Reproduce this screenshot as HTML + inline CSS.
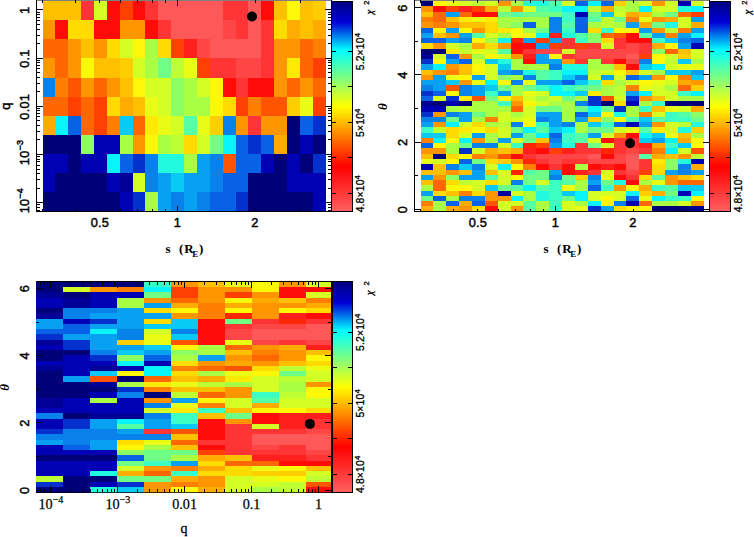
<!DOCTYPE html>
<html><head><meta charset="utf-8"><title>chi2 maps</title>
<style>
html,body{margin:0;padding:0;background:#fff;}
body{width:754px;height:537px;overflow:hidden;}
svg{display:block;}
text{font-family:"Liberation Sans",sans-serif;fill:#000;}
.tl{font-size:12.8px;letter-spacing:0.2px;stroke:#000;stroke-width:0.45px;}
.cbl{font-size:10.4px;letter-spacing:0.15px;stroke:#000;stroke-width:0.3px;}
.sup{font-size:9px;}
.csup{font-size:7.6px;stroke:#000;stroke-width:0.3px;}
.chi{font-family:"Liberation Serif",serif;font-style:italic;font-size:10px;stroke:#000;stroke-width:0.4px;}
.xl{font-family:"Liberation Serif",serif;font-size:13px;font-weight:bold;}
.sub{font-size:9px;}
.th{font-family:"Liberation Serif",serif;font-size:13px;font-style:italic;font-weight:bold;}
.sl{font-family:"Liberation Serif",serif;font-size:14.2px;stroke:#000;stroke-width:0.25px;}
.ssup{font-size:10px;}
.ql{font-family:"Liberation Serif",serif;font-size:14px;stroke:#000;stroke-width:0.3px;}
</style></head><body>
<svg width="754" height="537" viewBox="0 0 754 537">
<defs><linearGradient id="cb" x1="0" y1="0" x2="0" y2="1">
<stop offset="0" stop-color="#000080"/><stop offset="0.10" stop-color="#0000d8"/><stop offset="0.233" stop-color="#00ffff"/>
<stop offset="0.5" stop-color="#ffff00"/><stop offset="0.785" stop-color="#ff0000"/><stop offset="1" stop-color="#ff6060"/>
</linearGradient></defs>
<rect width="754" height="537" fill="#fff"/>
<svg x="43.10" y="0" width="300" height="212" viewBox="43.10 0 300 212"><g shape-rendering="crispEdges"><rect x="42.50" y="1.00" width="38.91" height="19.43" fill="#ffc000"/>
<rect x="81.11" y="1.00" width="13.17" height="19.43" fill="#ff3434"/>
<rect x="93.98" y="1.00" width="13.17" height="19.43" fill="#d4ff24"/>
<rect x="106.85" y="1.00" width="13.17" height="19.43" fill="#ff0c08"/>
<rect x="119.72" y="1.00" width="13.17" height="19.43" fill="#ff4000"/>
<rect x="132.59" y="1.00" width="13.17" height="19.43" fill="#ff0c08"/>
<rect x="145.46" y="1.00" width="13.17" height="19.43" fill="#ff3434"/>
<rect x="158.33" y="1.00" width="64.65" height="19.43" fill="#ff5858"/>
<rect x="222.68" y="1.00" width="26.04" height="19.43" fill="#ff3434"/>
<rect x="248.42" y="1.00" width="13.17" height="19.43" fill="#ff5858"/>
<rect x="261.29" y="1.00" width="13.17" height="19.43" fill="#ff0c08"/>
<rect x="274.16" y="1.00" width="13.17" height="19.43" fill="#ffc000"/>
<rect x="287.03" y="1.00" width="13.17" height="19.43" fill="#fcf808"/>
<rect x="299.90" y="1.00" width="13.17" height="19.43" fill="#ffc000"/>
<rect x="312.77" y="1.00" width="13.17" height="19.43" fill="#ffce00"/>
<rect x="42.50" y="20.13" width="13.17" height="19.43" fill="#ff9600"/>
<rect x="55.37" y="20.13" width="13.17" height="19.43" fill="#ff0c08"/>
<rect x="68.24" y="20.13" width="26.04" height="19.43" fill="#ffdc00"/>
<rect x="93.98" y="20.13" width="26.04" height="19.43" fill="#ff0c08"/>
<rect x="119.72" y="20.13" width="26.04" height="19.43" fill="#ff9600"/>
<rect x="145.46" y="20.13" width="13.17" height="19.43" fill="#ff0c08"/>
<rect x="158.33" y="20.13" width="13.17" height="19.43" fill="#ff3434"/>
<rect x="171.20" y="20.13" width="51.78" height="19.43" fill="#ff5858"/>
<rect x="222.68" y="20.13" width="13.17" height="19.43" fill="#ff4646"/>
<rect x="235.55" y="20.13" width="13.17" height="19.43" fill="#ff3434"/>
<rect x="248.42" y="20.13" width="13.17" height="19.43" fill="#ff5858"/>
<rect x="261.29" y="20.13" width="13.17" height="19.43" fill="#ff3434"/>
<rect x="274.16" y="20.13" width="13.17" height="19.43" fill="#ffdc00"/>
<rect x="287.03" y="20.13" width="13.17" height="19.43" fill="#ffab00"/>
<rect x="299.90" y="20.13" width="13.17" height="19.43" fill="#ffc000"/>
<rect x="312.77" y="20.13" width="13.17" height="19.43" fill="#ffab00"/>
<rect x="42.50" y="39.26" width="26.04" height="19.43" fill="#ff6800"/>
<rect x="68.24" y="39.26" width="13.17" height="19.43" fill="#ff9600"/>
<rect x="81.11" y="39.26" width="13.17" height="19.43" fill="#ffc000"/>
<rect x="93.98" y="39.26" width="13.17" height="19.43" fill="#ff9600"/>
<rect x="106.85" y="39.26" width="13.17" height="19.43" fill="#ffdc00"/>
<rect x="119.72" y="39.26" width="13.17" height="19.43" fill="#d4ff24"/>
<rect x="132.59" y="39.26" width="13.17" height="19.43" fill="#fcf808"/>
<rect x="145.46" y="39.26" width="13.17" height="19.43" fill="#a8ff44"/>
<rect x="158.33" y="39.26" width="13.17" height="19.43" fill="#ffdc00"/>
<rect x="171.20" y="39.26" width="13.17" height="19.43" fill="#ff4000"/>
<rect x="184.07" y="39.26" width="13.17" height="19.43" fill="#ff201e"/>
<rect x="196.94" y="39.26" width="13.17" height="19.43" fill="#ff4646"/>
<rect x="209.81" y="39.26" width="51.78" height="19.43" fill="#ff5858"/>
<rect x="261.29" y="39.26" width="13.17" height="19.43" fill="#ff3434"/>
<rect x="274.16" y="39.26" width="26.04" height="19.43" fill="#ff9600"/>
<rect x="299.90" y="39.26" width="13.17" height="19.43" fill="#ff6800"/>
<rect x="312.77" y="39.26" width="13.17" height="19.43" fill="#ff7f00"/>
<rect x="42.50" y="58.39" width="13.17" height="19.43" fill="#ff9600"/>
<rect x="55.37" y="58.39" width="13.17" height="19.43" fill="#ff6800"/>
<rect x="68.24" y="58.39" width="13.17" height="19.43" fill="#ff9600"/>
<rect x="81.11" y="58.39" width="13.17" height="19.43" fill="#fcf808"/>
<rect x="93.98" y="58.39" width="26.04" height="19.43" fill="#ffc000"/>
<rect x="119.72" y="58.39" width="13.17" height="19.43" fill="#ffce00"/>
<rect x="132.59" y="58.39" width="13.17" height="19.43" fill="#d4ff24"/>
<rect x="145.46" y="58.39" width="13.17" height="19.43" fill="#a8ff44"/>
<rect x="158.33" y="58.39" width="13.17" height="19.43" fill="#70ff86"/>
<rect x="171.20" y="58.39" width="13.17" height="19.43" fill="#beff34"/>
<rect x="184.07" y="58.39" width="13.17" height="19.43" fill="#e8fc16"/>
<rect x="196.94" y="58.39" width="13.17" height="19.43" fill="#ff4000"/>
<rect x="209.81" y="58.39" width="26.04" height="19.43" fill="#ff3434"/>
<rect x="235.55" y="58.39" width="26.04" height="19.43" fill="#ff4646"/>
<rect x="261.29" y="58.39" width="13.17" height="19.43" fill="#ff3434"/>
<rect x="274.16" y="58.39" width="13.17" height="19.43" fill="#ff9600"/>
<rect x="287.03" y="58.39" width="13.17" height="19.43" fill="#feea04"/>
<rect x="299.90" y="58.39" width="13.17" height="19.43" fill="#ff6800"/>
<rect x="312.77" y="58.39" width="13.17" height="19.43" fill="#ff4000"/>
<rect x="42.50" y="77.52" width="13.17" height="19.43" fill="#0881eb"/>
<rect x="55.37" y="77.52" width="13.17" height="19.43" fill="#ff7f00"/>
<rect x="68.24" y="77.52" width="13.17" height="19.43" fill="#ff5400"/>
<rect x="81.11" y="77.52" width="13.17" height="19.43" fill="#ff9600"/>
<rect x="93.98" y="77.52" width="13.17" height="19.43" fill="#ff6800"/>
<rect x="106.85" y="77.52" width="13.17" height="19.43" fill="#ff9600"/>
<rect x="119.72" y="77.52" width="13.17" height="19.43" fill="#ffc000"/>
<rect x="132.59" y="77.52" width="13.17" height="19.43" fill="#fcf808"/>
<rect x="145.46" y="77.52" width="26.04" height="19.43" fill="#d4ff24"/>
<rect x="171.20" y="77.52" width="13.17" height="19.43" fill="#8cff65"/>
<rect x="184.07" y="77.52" width="13.17" height="19.43" fill="#a8ff44"/>
<rect x="196.94" y="77.52" width="13.17" height="19.43" fill="#d4ff24"/>
<rect x="209.81" y="77.52" width="13.17" height="19.43" fill="#fcf808"/>
<rect x="222.68" y="77.52" width="13.17" height="19.43" fill="#ff0c08"/>
<rect x="235.55" y="77.52" width="13.17" height="19.43" fill="#ff3434"/>
<rect x="248.42" y="77.52" width="26.04" height="19.43" fill="#ff0c08"/>
<rect x="274.16" y="77.52" width="13.17" height="19.43" fill="#ff9600"/>
<rect x="287.03" y="77.52" width="13.17" height="19.43" fill="#ff6800"/>
<rect x="299.90" y="77.52" width="13.17" height="19.43" fill="#ff9600"/>
<rect x="312.77" y="77.52" width="13.17" height="19.43" fill="#ff6800"/>
<rect x="42.50" y="96.65" width="26.04" height="19.43" fill="#ff6800"/>
<rect x="68.24" y="96.65" width="13.17" height="19.43" fill="#ff4000"/>
<rect x="81.11" y="96.65" width="13.17" height="19.43" fill="#ff6800"/>
<rect x="93.98" y="96.65" width="13.17" height="19.43" fill="#ff4000"/>
<rect x="106.85" y="96.65" width="13.17" height="19.43" fill="#ffdc00"/>
<rect x="119.72" y="96.65" width="13.17" height="19.43" fill="#ffab00"/>
<rect x="132.59" y="96.65" width="13.17" height="19.43" fill="#ffc000"/>
<rect x="145.46" y="96.65" width="13.17" height="19.43" fill="#e8fc16"/>
<rect x="158.33" y="96.65" width="13.17" height="19.43" fill="#d4ff24"/>
<rect x="171.20" y="96.65" width="13.17" height="19.43" fill="#8cff65"/>
<rect x="184.07" y="96.65" width="26.04" height="19.43" fill="#a8ff44"/>
<rect x="209.81" y="96.65" width="13.17" height="19.43" fill="#fcf808"/>
<rect x="222.68" y="96.65" width="13.17" height="19.43" fill="#ffdc00"/>
<rect x="235.55" y="96.65" width="13.17" height="19.43" fill="#ff4000"/>
<rect x="248.42" y="96.65" width="13.17" height="19.43" fill="#ff7f00"/>
<rect x="261.29" y="96.65" width="26.04" height="19.43" fill="#ff5400"/>
<rect x="287.03" y="96.65" width="13.17" height="19.43" fill="#ffce00"/>
<rect x="299.90" y="96.65" width="13.17" height="19.43" fill="#e8fc16"/>
<rect x="312.77" y="96.65" width="13.17" height="19.43" fill="#ff4000"/>
<rect x="42.50" y="115.78" width="13.17" height="19.43" fill="#ffab00"/>
<rect x="55.37" y="115.78" width="13.17" height="19.43" fill="#08f4fa"/>
<rect x="68.24" y="115.78" width="13.17" height="19.43" fill="#0862e6"/>
<rect x="81.11" y="115.78" width="13.17" height="19.43" fill="#ff6800"/>
<rect x="93.98" y="115.78" width="13.17" height="19.43" fill="#ff4000"/>
<rect x="106.85" y="115.78" width="13.17" height="19.43" fill="#ff7f00"/>
<rect x="119.72" y="115.78" width="13.17" height="19.43" fill="#08caf5"/>
<rect x="132.59" y="115.78" width="13.17" height="19.43" fill="#ff6800"/>
<rect x="145.46" y="115.78" width="13.17" height="19.43" fill="#feea04"/>
<rect x="158.33" y="115.78" width="13.17" height="19.43" fill="#e8fc16"/>
<rect x="171.20" y="115.78" width="13.17" height="19.43" fill="#d4ff24"/>
<rect x="184.07" y="115.78" width="13.17" height="19.43" fill="#56ffa5"/>
<rect x="196.94" y="115.78" width="13.17" height="19.43" fill="#e8fc16"/>
<rect x="209.81" y="115.78" width="13.17" height="19.43" fill="#ffce00"/>
<rect x="222.68" y="115.78" width="13.17" height="19.43" fill="#0881eb"/>
<rect x="235.55" y="115.78" width="13.17" height="19.43" fill="#ff9600"/>
<rect x="248.42" y="115.78" width="13.17" height="19.43" fill="#ff3434"/>
<rect x="261.29" y="115.78" width="26.04" height="19.43" fill="#ff9600"/>
<rect x="287.03" y="115.78" width="13.17" height="19.43" fill="#000078"/>
<rect x="299.90" y="115.78" width="13.17" height="19.43" fill="#0862e6"/>
<rect x="312.77" y="115.78" width="13.17" height="19.43" fill="#0431cd"/>
<rect x="42.50" y="134.91" width="38.91" height="19.43" fill="#000078"/>
<rect x="81.11" y="134.91" width="13.17" height="19.43" fill="#8cff65"/>
<rect x="93.98" y="134.91" width="26.04" height="19.43" fill="#0000b4"/>
<rect x="119.72" y="134.91" width="13.17" height="19.43" fill="#a8ff44"/>
<rect x="132.59" y="134.91" width="13.17" height="19.43" fill="#ff9600"/>
<rect x="145.46" y="134.91" width="13.17" height="19.43" fill="#fcf808"/>
<rect x="158.33" y="134.91" width="13.17" height="19.43" fill="#a8ff44"/>
<rect x="171.20" y="134.91" width="13.17" height="19.43" fill="#beff34"/>
<rect x="184.07" y="134.91" width="13.17" height="19.43" fill="#ffdc00"/>
<rect x="196.94" y="134.91" width="13.17" height="19.43" fill="#d4ff24"/>
<rect x="209.81" y="134.91" width="13.17" height="19.43" fill="#70ff86"/>
<rect x="222.68" y="134.91" width="13.17" height="19.43" fill="#08f4fa"/>
<rect x="235.55" y="134.91" width="13.17" height="19.43" fill="#0862e6"/>
<rect x="248.42" y="134.91" width="13.17" height="19.43" fill="#0431cd"/>
<rect x="261.29" y="134.91" width="13.17" height="19.43" fill="#0862e6"/>
<rect x="274.16" y="134.91" width="13.17" height="19.43" fill="#ffab00"/>
<rect x="287.03" y="134.91" width="13.17" height="19.43" fill="#000078"/>
<rect x="299.90" y="134.91" width="13.17" height="19.43" fill="#0000b4"/>
<rect x="312.77" y="134.91" width="13.17" height="19.43" fill="#000078"/>
<rect x="42.50" y="154.04" width="26.04" height="19.43" fill="#0000b4"/>
<rect x="68.24" y="154.04" width="13.17" height="19.43" fill="#000078"/>
<rect x="81.11" y="154.04" width="26.04" height="19.43" fill="#0000b4"/>
<rect x="106.85" y="154.04" width="13.17" height="19.43" fill="#08f4fa"/>
<rect x="119.72" y="154.04" width="13.17" height="19.43" fill="#0862e6"/>
<rect x="132.59" y="154.04" width="13.17" height="19.43" fill="#0431cd"/>
<rect x="145.46" y="154.04" width="13.17" height="19.43" fill="#0881eb"/>
<rect x="158.33" y="154.04" width="26.04" height="19.43" fill="#22fadf"/>
<rect x="184.07" y="154.04" width="13.17" height="19.43" fill="#a8ff44"/>
<rect x="196.94" y="154.04" width="13.17" height="19.43" fill="#08a0f0"/>
<rect x="209.81" y="154.04" width="13.17" height="19.43" fill="#0881eb"/>
<rect x="222.68" y="154.04" width="13.17" height="19.43" fill="#ff5400"/>
<rect x="235.55" y="154.04" width="26.04" height="19.43" fill="#0862e6"/>
<rect x="261.29" y="154.04" width="13.17" height="19.43" fill="#0000b4"/>
<rect x="274.16" y="154.04" width="13.17" height="19.43" fill="#000078"/>
<rect x="287.03" y="154.04" width="13.17" height="19.43" fill="#0000b4"/>
<rect x="299.90" y="154.04" width="13.17" height="19.43" fill="#000078"/>
<rect x="312.77" y="154.04" width="13.17" height="19.43" fill="#0431cd"/>
<rect x="42.50" y="173.17" width="13.17" height="19.43" fill="#0000b4"/>
<rect x="55.37" y="173.17" width="51.78" height="19.43" fill="#000078"/>
<rect x="106.85" y="173.17" width="13.17" height="19.43" fill="#0000b4"/>
<rect x="119.72" y="173.17" width="13.17" height="19.43" fill="#000096"/>
<rect x="132.59" y="173.17" width="13.17" height="19.43" fill="#d4ff24"/>
<rect x="145.46" y="173.17" width="13.17" height="19.43" fill="#0881eb"/>
<rect x="158.33" y="173.17" width="13.17" height="19.43" fill="#08a0f0"/>
<rect x="171.20" y="173.17" width="13.17" height="19.43" fill="#08caf5"/>
<rect x="184.07" y="173.17" width="26.04" height="19.43" fill="#08a0f0"/>
<rect x="209.81" y="173.17" width="13.17" height="19.43" fill="#0881eb"/>
<rect x="222.68" y="173.17" width="26.04" height="19.43" fill="#0862e6"/>
<rect x="248.42" y="173.17" width="38.91" height="19.43" fill="#000078"/>
<rect x="287.03" y="173.17" width="38.91" height="19.43" fill="#0000b4"/>
<rect x="42.50" y="192.30" width="77.52" height="19.43" fill="#000078"/>
<rect x="119.72" y="192.30" width="13.17" height="19.43" fill="#0000b4"/>
<rect x="132.59" y="192.30" width="13.17" height="19.43" fill="#0431cd"/>
<rect x="145.46" y="192.30" width="13.17" height="19.43" fill="#a8ff44"/>
<rect x="158.33" y="192.30" width="13.17" height="19.43" fill="#08a0f0"/>
<rect x="171.20" y="192.30" width="13.17" height="19.43" fill="#0881eb"/>
<rect x="184.07" y="192.30" width="13.17" height="19.43" fill="#08a0f0"/>
<rect x="196.94" y="192.30" width="13.17" height="19.43" fill="#0881eb"/>
<rect x="209.81" y="192.30" width="26.04" height="19.43" fill="#0862e6"/>
<rect x="235.55" y="192.30" width="13.17" height="19.43" fill="#0431cd"/>
<rect x="248.42" y="192.30" width="64.65" height="19.43" fill="#000078"/>
<rect x="312.77" y="192.30" width="13.17" height="19.43" fill="#0000b4"/></g></svg>
<g stroke="#000" stroke-width="1" fill="none" shape-rendering="crispEdges">
<line x1="36.00" y1="0.50" x2="331.50" y2="0.50" stroke-opacity="0.5"/>
<line x1="36.50" y1="0.40" x2="36.50" y2="212.00"/>
<line x1="331.00" y1="0.40" x2="331.00" y2="212.00"/>
<line x1="36.00" y1="211.50" x2="331.50" y2="211.50"/>
<line x1="42.86" y1="211.50" x2="42.86" y2="208.50"/>
<line x1="42.86" y1="0.40" x2="42.86" y2="3.40"/>
<line x1="75.03" y1="211.50" x2="75.03" y2="208.50"/>
<line x1="75.03" y1="0.40" x2="75.03" y2="3.40"/>
<line x1="99.98" y1="211.50" x2="99.98" y2="208.50"/>
<line x1="99.98" y1="0.40" x2="99.98" y2="3.40"/>
<line x1="120.37" y1="211.50" x2="120.37" y2="208.50"/>
<line x1="120.37" y1="0.40" x2="120.37" y2="3.40"/>
<line x1="137.61" y1="211.50" x2="137.61" y2="208.50"/>
<line x1="137.61" y1="0.40" x2="137.61" y2="3.40"/>
<line x1="152.55" y1="211.50" x2="152.55" y2="208.50"/>
<line x1="152.55" y1="0.40" x2="152.55" y2="3.40"/>
<line x1="165.72" y1="211.50" x2="165.72" y2="208.50"/>
<line x1="165.72" y1="0.40" x2="165.72" y2="3.40"/>
<line x1="177.50" y1="211.50" x2="177.50" y2="205.50"/>
<line x1="177.50" y1="0.40" x2="177.50" y2="6.40"/>
<line x1="255.02" y1="211.50" x2="255.02" y2="208.50"/>
<line x1="255.02" y1="0.40" x2="255.02" y2="3.40"/>
<line x1="300.36" y1="211.50" x2="300.36" y2="208.50"/>
<line x1="300.36" y1="0.40" x2="300.36" y2="3.40"/>
<line x1="36.50" y1="210.17" x2="39.50" y2="210.17"/>
<line x1="331.00" y1="210.17" x2="328.00" y2="210.17"/>
<line x1="36.50" y1="207.37" x2="39.50" y2="207.37"/>
<line x1="331.00" y1="207.37" x2="328.00" y2="207.37"/>
<line x1="36.50" y1="204.91" x2="39.50" y2="204.91"/>
<line x1="331.00" y1="204.91" x2="328.00" y2="204.91"/>
<line x1="36.50" y1="202.70" x2="42.80" y2="202.70"/>
<line x1="331.00" y1="202.70" x2="324.70" y2="202.70"/>
<line x1="36.50" y1="188.19" x2="39.50" y2="188.19"/>
<line x1="331.00" y1="188.19" x2="328.00" y2="188.19"/>
<line x1="36.50" y1="179.70" x2="39.50" y2="179.70"/>
<line x1="331.00" y1="179.70" x2="328.00" y2="179.70"/>
<line x1="36.50" y1="173.68" x2="39.50" y2="173.68"/>
<line x1="331.00" y1="173.68" x2="328.00" y2="173.68"/>
<line x1="36.50" y1="169.01" x2="39.50" y2="169.01"/>
<line x1="331.00" y1="169.01" x2="328.00" y2="169.01"/>
<line x1="36.50" y1="165.19" x2="39.50" y2="165.19"/>
<line x1="331.00" y1="165.19" x2="328.00" y2="165.19"/>
<line x1="36.50" y1="161.97" x2="39.50" y2="161.97"/>
<line x1="331.00" y1="161.97" x2="328.00" y2="161.97"/>
<line x1="36.50" y1="159.17" x2="39.50" y2="159.17"/>
<line x1="331.00" y1="159.17" x2="328.00" y2="159.17"/>
<line x1="36.50" y1="156.71" x2="39.50" y2="156.71"/>
<line x1="331.00" y1="156.71" x2="328.00" y2="156.71"/>
<line x1="36.50" y1="154.50" x2="42.80" y2="154.50"/>
<line x1="331.00" y1="154.50" x2="324.70" y2="154.50"/>
<line x1="36.50" y1="139.99" x2="39.50" y2="139.99"/>
<line x1="331.00" y1="139.99" x2="328.00" y2="139.99"/>
<line x1="36.50" y1="131.50" x2="39.50" y2="131.50"/>
<line x1="331.00" y1="131.50" x2="328.00" y2="131.50"/>
<line x1="36.50" y1="125.48" x2="39.50" y2="125.48"/>
<line x1="331.00" y1="125.48" x2="328.00" y2="125.48"/>
<line x1="36.50" y1="120.81" x2="39.50" y2="120.81"/>
<line x1="331.00" y1="120.81" x2="328.00" y2="120.81"/>
<line x1="36.50" y1="116.99" x2="39.50" y2="116.99"/>
<line x1="331.00" y1="116.99" x2="328.00" y2="116.99"/>
<line x1="36.50" y1="113.77" x2="39.50" y2="113.77"/>
<line x1="331.00" y1="113.77" x2="328.00" y2="113.77"/>
<line x1="36.50" y1="110.97" x2="39.50" y2="110.97"/>
<line x1="331.00" y1="110.97" x2="328.00" y2="110.97"/>
<line x1="36.50" y1="108.51" x2="39.50" y2="108.51"/>
<line x1="331.00" y1="108.51" x2="328.00" y2="108.51"/>
<line x1="36.50" y1="106.30" x2="42.80" y2="106.30"/>
<line x1="331.00" y1="106.30" x2="324.70" y2="106.30"/>
<line x1="36.50" y1="91.79" x2="39.50" y2="91.79"/>
<line x1="331.00" y1="91.79" x2="328.00" y2="91.79"/>
<line x1="36.50" y1="83.30" x2="39.50" y2="83.30"/>
<line x1="331.00" y1="83.30" x2="328.00" y2="83.30"/>
<line x1="36.50" y1="77.28" x2="39.50" y2="77.28"/>
<line x1="331.00" y1="77.28" x2="328.00" y2="77.28"/>
<line x1="36.50" y1="72.61" x2="39.50" y2="72.61"/>
<line x1="331.00" y1="72.61" x2="328.00" y2="72.61"/>
<line x1="36.50" y1="68.79" x2="39.50" y2="68.79"/>
<line x1="331.00" y1="68.79" x2="328.00" y2="68.79"/>
<line x1="36.50" y1="65.57" x2="39.50" y2="65.57"/>
<line x1="331.00" y1="65.57" x2="328.00" y2="65.57"/>
<line x1="36.50" y1="62.77" x2="39.50" y2="62.77"/>
<line x1="331.00" y1="62.77" x2="328.00" y2="62.77"/>
<line x1="36.50" y1="60.31" x2="39.50" y2="60.31"/>
<line x1="331.00" y1="60.31" x2="328.00" y2="60.31"/>
<line x1="36.50" y1="58.10" x2="42.80" y2="58.10"/>
<line x1="331.00" y1="58.10" x2="324.70" y2="58.10"/>
<line x1="36.50" y1="43.59" x2="39.50" y2="43.59"/>
<line x1="331.00" y1="43.59" x2="328.00" y2="43.59"/>
<line x1="36.50" y1="35.10" x2="39.50" y2="35.10"/>
<line x1="331.00" y1="35.10" x2="328.00" y2="35.10"/>
<line x1="36.50" y1="29.08" x2="39.50" y2="29.08"/>
<line x1="331.00" y1="29.08" x2="328.00" y2="29.08"/>
<line x1="36.50" y1="24.41" x2="39.50" y2="24.41"/>
<line x1="331.00" y1="24.41" x2="328.00" y2="24.41"/>
<line x1="36.50" y1="20.59" x2="39.50" y2="20.59"/>
<line x1="331.00" y1="20.59" x2="328.00" y2="20.59"/>
<line x1="36.50" y1="17.37" x2="39.50" y2="17.37"/>
<line x1="331.00" y1="17.37" x2="328.00" y2="17.37"/>
<line x1="36.50" y1="14.57" x2="39.50" y2="14.57"/>
<line x1="331.00" y1="14.57" x2="328.00" y2="14.57"/>
<line x1="36.50" y1="12.11" x2="39.50" y2="12.11"/>
<line x1="331.00" y1="12.11" x2="328.00" y2="12.11"/>
<line x1="36.50" y1="9.90" x2="42.80" y2="9.90"/>
<line x1="331.00" y1="9.90" x2="324.70" y2="9.90"/>
</g>
<text class="tl" x="99.98" y="227.4" text-anchor="middle">0.5</text>
<text class="tl" x="177.50" y="227.4" text-anchor="middle">1</text>
<text class="tl" x="255.02" y="227.4" text-anchor="middle">2</text>
<text class="xl" y="252.5"><tspan x="165.60">s</tspan><tspan x="179.00">(</tspan><tspan x="184.20">R</tspan><tspan class="sub" x="192.30" dy="4">E</tspan><tspan x="199.00" dy="-4">)</tspan></text>
<rect x="331.50" y="1.20" width="20.50" height="210.20" fill="url(#cb)"/>
<g stroke="#000" stroke-width="1" fill="none" shape-rendering="crispEdges">
<rect x="331.50" y="1.20" width="20.50" height="210.20"/>
<line x1="331.50" y1="51.30" x2="336.00" y2="51.30"/>
<line x1="352.00" y1="51.30" x2="347.50" y2="51.30"/>
<line x1="331.50" y1="86.90" x2="336.00" y2="86.90"/>
<line x1="352.00" y1="86.90" x2="347.50" y2="86.90"/>
<line x1="331.50" y1="122.40" x2="336.00" y2="122.40"/>
<line x1="352.00" y1="122.40" x2="347.50" y2="122.40"/>
<line x1="331.50" y1="157.90" x2="336.00" y2="157.90"/>
<line x1="352.00" y1="157.90" x2="347.50" y2="157.90"/>
<line x1="331.50" y1="193.40" x2="336.00" y2="193.40"/>
<line x1="352.00" y1="193.40" x2="347.50" y2="193.40"/>
</g>
<text class="cbl" transform="translate(363.90,51.60) rotate(-90)" text-anchor="middle">5.2×10<tspan class="csup" dy="-3.6">4</tspan></text>
<text class="cbl" transform="translate(363.90,122.70) rotate(-90)" text-anchor="middle">5×10<tspan class="csup" dy="-3.6">4</tspan></text>
<text class="cbl" transform="translate(363.90,193.70) rotate(-90)" text-anchor="middle">4.8×10<tspan class="csup" dy="-3.6">4</tspan></text>
<text class="chi" transform="translate(373.00,14.20) rotate(-90)">χ</text>
<text class="csup" transform="translate(368.50,4.80) rotate(-90)">2</text>
<text class="tl" transform="translate(28.6,10.40) rotate(-90)" text-anchor="middle">1</text>
<text class="tl" transform="translate(28.6,58.60) rotate(-90)" text-anchor="middle">0.1</text>
<text class="tl" transform="translate(28.6,106.80) rotate(-90)" text-anchor="middle">0.01</text>
<text class="tl" transform="translate(28.6,152.50) rotate(-90)" text-anchor="middle">10<tspan class="sup" dy="-5.8">−3</tspan></text>
<text class="tl" transform="translate(28.6,200.70) rotate(-90)" text-anchor="middle">10<tspan class="sup" dy="-5.8">−4</tspan></text>
<text class="tl" transform="translate(9.6,106) rotate(-90)" text-anchor="middle">q</text>
<circle cx="252" cy="16.5" r="5" fill="#000"/>
<svg x="421.10" y="0" width="300" height="212" viewBox="421.10 0 300 212"><g shape-rendering="crispEdges"><rect x="420.50" y="1.20" width="13.17" height="5.56" fill="#000078"/>
<rect x="433.37" y="1.20" width="13.17" height="5.56" fill="#fcf808"/>
<rect x="446.24" y="1.20" width="13.17" height="5.56" fill="#e8fc16"/>
<rect x="459.11" y="1.20" width="13.17" height="5.56" fill="#d4ff24"/>
<rect x="471.98" y="1.20" width="13.17" height="5.56" fill="#beff34"/>
<rect x="484.85" y="1.20" width="13.17" height="5.56" fill="#d4ff24"/>
<rect x="497.72" y="1.20" width="13.17" height="5.56" fill="#ff9600"/>
<rect x="510.59" y="1.20" width="13.17" height="5.56" fill="#a8ff44"/>
<rect x="523.46" y="1.20" width="26.04" height="5.56" fill="#22fadf"/>
<rect x="549.20" y="1.20" width="13.17" height="5.56" fill="#56ffa5"/>
<rect x="562.07" y="1.20" width="13.17" height="5.56" fill="#d4ff24"/>
<rect x="574.94" y="1.20" width="13.17" height="5.56" fill="#0862e6"/>
<rect x="587.81" y="1.20" width="13.17" height="5.56" fill="#08f4fa"/>
<rect x="600.68" y="1.20" width="13.17" height="5.56" fill="#0862e6"/>
<rect x="613.55" y="1.20" width="13.17" height="5.56" fill="#ffce00"/>
<rect x="626.42" y="1.20" width="13.17" height="5.56" fill="#a8ff44"/>
<rect x="639.29" y="1.20" width="13.17" height="5.56" fill="#d4ff24"/>
<rect x="652.16" y="1.20" width="13.17" height="5.56" fill="#ff9600"/>
<rect x="665.03" y="1.20" width="13.17" height="5.56" fill="#d4ff24"/>
<rect x="677.90" y="1.20" width="13.17" height="5.56" fill="#0000b4"/>
<rect x="690.77" y="1.20" width="13.17" height="5.56" fill="#d4ff24"/>
<rect x="420.50" y="6.46" width="13.17" height="5.56" fill="#ff9600"/>
<rect x="433.37" y="6.46" width="13.17" height="5.56" fill="#ff0c08"/>
<rect x="446.24" y="6.46" width="13.17" height="5.56" fill="#ff4000"/>
<rect x="459.11" y="6.46" width="13.17" height="5.56" fill="#ff201e"/>
<rect x="471.98" y="6.46" width="13.17" height="5.56" fill="#ff4000"/>
<rect x="484.85" y="6.46" width="13.17" height="5.56" fill="#ffab00"/>
<rect x="497.72" y="6.46" width="13.17" height="5.56" fill="#beff34"/>
<rect x="510.59" y="6.46" width="13.17" height="5.56" fill="#ff9600"/>
<rect x="523.46" y="6.46" width="13.17" height="5.56" fill="#d4ff24"/>
<rect x="536.33" y="6.46" width="13.17" height="5.56" fill="#56ffa5"/>
<rect x="549.20" y="6.46" width="13.17" height="5.56" fill="#3cffc4"/>
<rect x="562.07" y="6.46" width="26.04" height="5.56" fill="#08f4fa"/>
<rect x="587.81" y="6.46" width="13.17" height="5.56" fill="#beff34"/>
<rect x="600.68" y="6.46" width="13.17" height="5.56" fill="#ffab00"/>
<rect x="613.55" y="6.46" width="13.17" height="5.56" fill="#beff34"/>
<rect x="626.42" y="6.46" width="13.17" height="5.56" fill="#a8ff44"/>
<rect x="639.29" y="6.46" width="13.17" height="5.56" fill="#08f4fa"/>
<rect x="652.16" y="6.46" width="26.04" height="5.56" fill="#d4ff24"/>
<rect x="677.90" y="6.46" width="13.17" height="5.56" fill="#22fadf"/>
<rect x="690.77" y="6.46" width="13.17" height="5.56" fill="#08f4fa"/>
<rect x="420.50" y="11.72" width="13.17" height="5.56" fill="#ffc000"/>
<rect x="433.37" y="11.72" width="13.17" height="5.56" fill="#ff6800"/>
<rect x="446.24" y="11.72" width="13.17" height="5.56" fill="#08a0f0"/>
<rect x="459.11" y="11.72" width="13.17" height="5.56" fill="#ff6800"/>
<rect x="471.98" y="11.72" width="26.04" height="5.56" fill="#ff0c08"/>
<rect x="497.72" y="11.72" width="13.17" height="5.56" fill="#70ff86"/>
<rect x="510.59" y="11.72" width="13.17" height="5.56" fill="#56ffa5"/>
<rect x="523.46" y="11.72" width="38.91" height="5.56" fill="#70ff86"/>
<rect x="562.07" y="11.72" width="13.17" height="5.56" fill="#3cffc4"/>
<rect x="574.94" y="11.72" width="13.17" height="5.56" fill="#0000b4"/>
<rect x="587.81" y="11.72" width="13.17" height="5.56" fill="#70ff86"/>
<rect x="600.68" y="11.72" width="13.17" height="5.56" fill="#08caf5"/>
<rect x="613.55" y="11.72" width="13.17" height="5.56" fill="#d4ff24"/>
<rect x="626.42" y="11.72" width="13.17" height="5.56" fill="#ffab00"/>
<rect x="639.29" y="11.72" width="13.17" height="5.56" fill="#ffc000"/>
<rect x="652.16" y="11.72" width="13.17" height="5.56" fill="#a8ff44"/>
<rect x="665.03" y="11.72" width="13.17" height="5.56" fill="#70ff86"/>
<rect x="677.90" y="11.72" width="13.17" height="5.56" fill="#ff6800"/>
<rect x="690.77" y="11.72" width="13.17" height="5.56" fill="#ff4000"/>
<rect x="420.50" y="16.98" width="13.17" height="5.56" fill="#ff7f00"/>
<rect x="433.37" y="16.98" width="13.17" height="5.56" fill="#ff6800"/>
<rect x="446.24" y="16.98" width="13.17" height="5.56" fill="#ffc000"/>
<rect x="459.11" y="16.98" width="13.17" height="5.56" fill="#feea04"/>
<rect x="471.98" y="16.98" width="13.17" height="5.56" fill="#e8fc16"/>
<rect x="484.85" y="16.98" width="13.17" height="5.56" fill="#feea04"/>
<rect x="497.72" y="16.98" width="51.78" height="5.56" fill="#a8ff44"/>
<rect x="549.20" y="16.98" width="13.17" height="5.56" fill="#0881eb"/>
<rect x="562.07" y="16.98" width="13.17" height="5.56" fill="#3cffc4"/>
<rect x="574.94" y="16.98" width="13.17" height="5.56" fill="#0862e6"/>
<rect x="587.81" y="16.98" width="13.17" height="5.56" fill="#56ffa5"/>
<rect x="600.68" y="16.98" width="13.17" height="5.56" fill="#beff34"/>
<rect x="613.55" y="16.98" width="13.17" height="5.56" fill="#70ff86"/>
<rect x="626.42" y="16.98" width="13.17" height="5.56" fill="#ff7f00"/>
<rect x="639.29" y="16.98" width="13.17" height="5.56" fill="#e8fc16"/>
<rect x="652.16" y="16.98" width="13.17" height="5.56" fill="#ff9600"/>
<rect x="665.03" y="16.98" width="13.17" height="5.56" fill="#ffab00"/>
<rect x="677.90" y="16.98" width="13.17" height="5.56" fill="#d4ff24"/>
<rect x="690.77" y="16.98" width="13.17" height="5.56" fill="#08a0f0"/>
<rect x="420.50" y="22.24" width="13.17" height="5.56" fill="#ff9600"/>
<rect x="433.37" y="22.24" width="13.17" height="5.56" fill="#ff7f00"/>
<rect x="446.24" y="22.24" width="13.17" height="5.56" fill="#ff9600"/>
<rect x="459.11" y="22.24" width="26.04" height="5.56" fill="#ffc000"/>
<rect x="484.85" y="22.24" width="13.17" height="5.56" fill="#ffdc00"/>
<rect x="497.72" y="22.24" width="13.17" height="5.56" fill="#a8ff44"/>
<rect x="510.59" y="22.24" width="13.17" height="5.56" fill="#8cff65"/>
<rect x="523.46" y="22.24" width="13.17" height="5.56" fill="#0862e6"/>
<rect x="536.33" y="22.24" width="13.17" height="5.56" fill="#a8ff44"/>
<rect x="549.20" y="22.24" width="13.17" height="5.56" fill="#0881eb"/>
<rect x="562.07" y="22.24" width="13.17" height="5.56" fill="#56ffa5"/>
<rect x="574.94" y="22.24" width="13.17" height="5.56" fill="#0862e6"/>
<rect x="587.81" y="22.24" width="13.17" height="5.56" fill="#a8ff44"/>
<rect x="600.68" y="22.24" width="13.17" height="5.56" fill="#beff34"/>
<rect x="613.55" y="22.24" width="13.17" height="5.56" fill="#a8ff44"/>
<rect x="626.42" y="22.24" width="13.17" height="5.56" fill="#08a0f0"/>
<rect x="639.29" y="22.24" width="13.17" height="5.56" fill="#ffab00"/>
<rect x="652.16" y="22.24" width="13.17" height="5.56" fill="#70ff86"/>
<rect x="665.03" y="22.24" width="13.17" height="5.56" fill="#22fadf"/>
<rect x="677.90" y="22.24" width="13.17" height="5.56" fill="#d4ff24"/>
<rect x="690.77" y="22.24" width="13.17" height="5.56" fill="#ffab00"/>
<rect x="420.50" y="27.50" width="13.17" height="5.56" fill="#0862e6"/>
<rect x="433.37" y="27.50" width="13.17" height="5.56" fill="#fcf808"/>
<rect x="446.24" y="27.50" width="13.17" height="5.56" fill="#08a0f0"/>
<rect x="459.11" y="27.50" width="13.17" height="5.56" fill="#fcf808"/>
<rect x="471.98" y="27.50" width="13.17" height="5.56" fill="#ff9600"/>
<rect x="484.85" y="27.50" width="13.17" height="5.56" fill="#ffdc00"/>
<rect x="497.72" y="27.50" width="13.17" height="5.56" fill="#feea04"/>
<rect x="510.59" y="27.50" width="13.17" height="5.56" fill="#fcf808"/>
<rect x="523.46" y="27.50" width="13.17" height="5.56" fill="#a8ff44"/>
<rect x="536.33" y="27.50" width="13.17" height="5.56" fill="#70ff86"/>
<rect x="549.20" y="27.50" width="13.17" height="5.56" fill="#0881eb"/>
<rect x="562.07" y="27.50" width="13.17" height="5.56" fill="#3cffc4"/>
<rect x="574.94" y="27.50" width="13.17" height="5.56" fill="#0862e6"/>
<rect x="587.81" y="27.50" width="13.17" height="5.56" fill="#ffdc00"/>
<rect x="600.68" y="27.50" width="13.17" height="5.56" fill="#3cffc4"/>
<rect x="613.55" y="27.50" width="26.04" height="5.56" fill="#fcf808"/>
<rect x="639.29" y="27.50" width="13.17" height="5.56" fill="#08a0f0"/>
<rect x="652.16" y="27.50" width="13.17" height="5.56" fill="#ff9600"/>
<rect x="665.03" y="27.50" width="13.17" height="5.56" fill="#beff34"/>
<rect x="677.90" y="27.50" width="13.17" height="5.56" fill="#ff7f00"/>
<rect x="690.77" y="27.50" width="13.17" height="5.56" fill="#08a0f0"/>
<rect x="420.50" y="32.76" width="13.17" height="5.56" fill="#08a0f0"/>
<rect x="433.37" y="32.76" width="13.17" height="5.56" fill="#ffc000"/>
<rect x="446.24" y="32.76" width="13.17" height="5.56" fill="#ff9600"/>
<rect x="459.11" y="32.76" width="13.17" height="5.56" fill="#08a0f0"/>
<rect x="471.98" y="32.76" width="13.17" height="5.56" fill="#56ffa5"/>
<rect x="484.85" y="32.76" width="13.17" height="5.56" fill="#d4ff24"/>
<rect x="497.72" y="32.76" width="13.17" height="5.56" fill="#a8ff44"/>
<rect x="510.59" y="32.76" width="13.17" height="5.56" fill="#fcf808"/>
<rect x="523.46" y="32.76" width="13.17" height="5.56" fill="#e8fc16"/>
<rect x="536.33" y="32.76" width="13.17" height="5.56" fill="#08f4fa"/>
<rect x="549.20" y="32.76" width="13.17" height="5.56" fill="#ff201e"/>
<rect x="562.07" y="32.76" width="13.17" height="5.56" fill="#22fadf"/>
<rect x="574.94" y="32.76" width="13.17" height="5.56" fill="#56ffa5"/>
<rect x="587.81" y="32.76" width="13.17" height="5.56" fill="#8cff65"/>
<rect x="600.68" y="32.76" width="13.17" height="5.56" fill="#ff6800"/>
<rect x="613.55" y="32.76" width="13.17" height="5.56" fill="#ff5400"/>
<rect x="626.42" y="32.76" width="13.17" height="5.56" fill="#ff0c08"/>
<rect x="639.29" y="32.76" width="13.17" height="5.56" fill="#56ffa5"/>
<rect x="652.16" y="32.76" width="13.17" height="5.56" fill="#08a0f0"/>
<rect x="665.03" y="32.76" width="13.17" height="5.56" fill="#ff7f00"/>
<rect x="677.90" y="32.76" width="13.17" height="5.56" fill="#08a0f0"/>
<rect x="690.77" y="32.76" width="13.17" height="5.56" fill="#08f4fa"/>
<rect x="420.50" y="38.02" width="26.04" height="5.56" fill="#0862e6"/>
<rect x="446.24" y="38.02" width="13.17" height="5.56" fill="#08a0f0"/>
<rect x="459.11" y="38.02" width="13.17" height="5.56" fill="#0881eb"/>
<rect x="471.98" y="38.02" width="13.17" height="5.56" fill="#fcf808"/>
<rect x="484.85" y="38.02" width="13.17" height="5.56" fill="#a8ff44"/>
<rect x="497.72" y="38.02" width="13.17" height="5.56" fill="#08f4fa"/>
<rect x="510.59" y="38.02" width="13.17" height="5.56" fill="#ff2604"/>
<rect x="523.46" y="38.02" width="13.17" height="5.56" fill="#08a0f0"/>
<rect x="536.33" y="38.02" width="13.17" height="5.56" fill="#ff4000"/>
<rect x="549.20" y="38.02" width="13.17" height="5.56" fill="#08a0f0"/>
<rect x="562.07" y="38.02" width="13.17" height="5.56" fill="#ff3434"/>
<rect x="574.94" y="38.02" width="13.17" height="5.56" fill="#3cffc4"/>
<rect x="587.81" y="38.02" width="13.17" height="5.56" fill="#8cff65"/>
<rect x="600.68" y="38.02" width="13.17" height="5.56" fill="#ffdc00"/>
<rect x="613.55" y="38.02" width="13.17" height="5.56" fill="#ff3434"/>
<rect x="626.42" y="38.02" width="26.04" height="5.56" fill="#ff0c08"/>
<rect x="652.16" y="38.02" width="13.17" height="5.56" fill="#3cffc4"/>
<rect x="665.03" y="38.02" width="13.17" height="5.56" fill="#08caf5"/>
<rect x="677.90" y="38.02" width="13.17" height="5.56" fill="#0881eb"/>
<rect x="690.77" y="38.02" width="13.17" height="5.56" fill="#0862e6"/>
<rect x="420.50" y="43.28" width="13.17" height="5.56" fill="#ffdc00"/>
<rect x="433.37" y="43.28" width="13.17" height="5.56" fill="#ff9600"/>
<rect x="446.24" y="43.28" width="13.17" height="5.56" fill="#d4ff24"/>
<rect x="459.11" y="43.28" width="13.17" height="5.56" fill="#a8ff44"/>
<rect x="471.98" y="43.28" width="13.17" height="5.56" fill="#ffab00"/>
<rect x="484.85" y="43.28" width="13.17" height="5.56" fill="#ffdc00"/>
<rect x="497.72" y="43.28" width="13.17" height="5.56" fill="#ff9600"/>
<rect x="510.59" y="43.28" width="26.04" height="5.56" fill="#ff0c08"/>
<rect x="536.33" y="43.28" width="13.17" height="5.56" fill="#08a0f0"/>
<rect x="549.20" y="43.28" width="13.17" height="5.56" fill="#ff4000"/>
<rect x="562.07" y="43.28" width="13.17" height="5.56" fill="#ff3434"/>
<rect x="574.94" y="43.28" width="13.17" height="5.56" fill="#ff4000"/>
<rect x="587.81" y="43.28" width="13.17" height="5.56" fill="#ff3434"/>
<rect x="600.68" y="43.28" width="13.17" height="5.56" fill="#d4ff24"/>
<rect x="613.55" y="43.28" width="13.17" height="5.56" fill="#ff3434"/>
<rect x="626.42" y="43.28" width="13.17" height="5.56" fill="#ff4646"/>
<rect x="639.29" y="43.28" width="13.17" height="5.56" fill="#ff3434"/>
<rect x="652.16" y="43.28" width="13.17" height="5.56" fill="#ffab00"/>
<rect x="665.03" y="43.28" width="13.17" height="5.56" fill="#fcf808"/>
<rect x="677.90" y="43.28" width="13.17" height="5.56" fill="#08a0f0"/>
<rect x="690.77" y="43.28" width="13.17" height="5.56" fill="#0000b4"/>
<rect x="420.50" y="48.54" width="26.04" height="5.56" fill="#000078"/>
<rect x="446.24" y="48.54" width="13.17" height="5.56" fill="#feea04"/>
<rect x="459.11" y="48.54" width="13.17" height="5.56" fill="#beff34"/>
<rect x="471.98" y="48.54" width="13.17" height="5.56" fill="#e8fc16"/>
<rect x="484.85" y="48.54" width="13.17" height="5.56" fill="#d4ff24"/>
<rect x="497.72" y="48.54" width="13.17" height="5.56" fill="#56ffa5"/>
<rect x="510.59" y="48.54" width="13.17" height="5.56" fill="#ff0c08"/>
<rect x="523.46" y="48.54" width="13.17" height="5.56" fill="#ff3434"/>
<rect x="536.33" y="48.54" width="26.04" height="5.56" fill="#ff4646"/>
<rect x="562.07" y="48.54" width="13.17" height="5.56" fill="#d4ff24"/>
<rect x="574.94" y="48.54" width="64.65" height="5.56" fill="#ff4646"/>
<rect x="639.29" y="48.54" width="13.17" height="5.56" fill="#ff3434"/>
<rect x="652.16" y="48.54" width="13.17" height="5.56" fill="#8cff65"/>
<rect x="665.03" y="48.54" width="13.17" height="5.56" fill="#ff6800"/>
<rect x="677.90" y="48.54" width="13.17" height="5.56" fill="#ffc000"/>
<rect x="690.77" y="48.54" width="13.17" height="5.56" fill="#d4ff24"/>
<rect x="420.50" y="53.80" width="13.17" height="5.56" fill="#000096"/>
<rect x="433.37" y="53.80" width="13.17" height="5.56" fill="#d4ff24"/>
<rect x="446.24" y="53.80" width="13.17" height="5.56" fill="#0862e6"/>
<rect x="459.11" y="53.80" width="13.17" height="5.56" fill="#ff9600"/>
<rect x="471.98" y="53.80" width="13.17" height="5.56" fill="#a8ff44"/>
<rect x="484.85" y="53.80" width="13.17" height="5.56" fill="#fcf808"/>
<rect x="497.72" y="53.80" width="13.17" height="5.56" fill="#d4ff24"/>
<rect x="510.59" y="53.80" width="13.17" height="5.56" fill="#ff9600"/>
<rect x="523.46" y="53.80" width="13.17" height="5.56" fill="#ff201e"/>
<rect x="536.33" y="53.80" width="13.17" height="5.56" fill="#08a0f0"/>
<rect x="549.20" y="53.80" width="13.17" height="5.56" fill="#fcf808"/>
<rect x="562.07" y="53.80" width="13.17" height="5.56" fill="#ff3434"/>
<rect x="574.94" y="53.80" width="51.78" height="5.56" fill="#ff4646"/>
<rect x="626.42" y="53.80" width="13.17" height="5.56" fill="#ff5858"/>
<rect x="639.29" y="53.80" width="13.17" height="5.56" fill="#ff4000"/>
<rect x="652.16" y="53.80" width="13.17" height="5.56" fill="#fcf808"/>
<rect x="665.03" y="53.80" width="13.17" height="5.56" fill="#d4ff24"/>
<rect x="677.90" y="53.80" width="13.17" height="5.56" fill="#ffce00"/>
<rect x="690.77" y="53.80" width="13.17" height="5.56" fill="#d4ff24"/>
<rect x="420.50" y="59.06" width="13.17" height="5.56" fill="#0431cd"/>
<rect x="433.37" y="59.06" width="13.17" height="5.56" fill="#fcf808"/>
<rect x="446.24" y="59.06" width="13.17" height="5.56" fill="#08a0f0"/>
<rect x="459.11" y="59.06" width="13.17" height="5.56" fill="#0862e6"/>
<rect x="471.98" y="59.06" width="13.17" height="5.56" fill="#d4ff24"/>
<rect x="484.85" y="59.06" width="13.17" height="5.56" fill="#08caf5"/>
<rect x="497.72" y="59.06" width="13.17" height="5.56" fill="#22fadf"/>
<rect x="510.59" y="59.06" width="13.17" height="5.56" fill="#a8ff44"/>
<rect x="523.46" y="59.06" width="13.17" height="5.56" fill="#ff0c08"/>
<rect x="536.33" y="59.06" width="26.04" height="5.56" fill="#08a0f0"/>
<rect x="562.07" y="59.06" width="13.17" height="5.56" fill="#ff9600"/>
<rect x="574.94" y="59.06" width="13.17" height="5.56" fill="#ff3434"/>
<rect x="587.81" y="59.06" width="13.17" height="5.56" fill="#a8ff44"/>
<rect x="600.68" y="59.06" width="13.17" height="5.56" fill="#ff3434"/>
<rect x="613.55" y="59.06" width="13.17" height="5.56" fill="#ff0c08"/>
<rect x="626.42" y="59.06" width="13.17" height="5.56" fill="#ff4646"/>
<rect x="639.29" y="59.06" width="13.17" height="5.56" fill="#0881eb"/>
<rect x="652.16" y="59.06" width="13.17" height="5.56" fill="#fcf808"/>
<rect x="665.03" y="59.06" width="13.17" height="5.56" fill="#beff34"/>
<rect x="677.90" y="59.06" width="13.17" height="5.56" fill="#08caf5"/>
<rect x="690.77" y="59.06" width="13.17" height="5.56" fill="#a8ff44"/>
<rect x="420.50" y="64.32" width="13.17" height="5.56" fill="#08a0f0"/>
<rect x="433.37" y="64.32" width="13.17" height="5.56" fill="#08f4fa"/>
<rect x="446.24" y="64.32" width="13.17" height="5.56" fill="#ff9600"/>
<rect x="459.11" y="64.32" width="13.17" height="5.56" fill="#ffc000"/>
<rect x="471.98" y="64.32" width="13.17" height="5.56" fill="#fcf808"/>
<rect x="484.85" y="64.32" width="13.17" height="5.56" fill="#d4ff24"/>
<rect x="497.72" y="64.32" width="13.17" height="5.56" fill="#08caf5"/>
<rect x="510.59" y="64.32" width="38.91" height="5.56" fill="#a8ff44"/>
<rect x="549.20" y="64.32" width="13.17" height="5.56" fill="#0881eb"/>
<rect x="562.07" y="64.32" width="26.04" height="5.56" fill="#22fadf"/>
<rect x="587.81" y="64.32" width="26.04" height="5.56" fill="#a8ff44"/>
<rect x="613.55" y="64.32" width="13.17" height="5.56" fill="#ffc000"/>
<rect x="626.42" y="64.32" width="13.17" height="5.56" fill="#ff0c08"/>
<rect x="639.29" y="64.32" width="13.17" height="5.56" fill="#08caf5"/>
<rect x="652.16" y="64.32" width="13.17" height="5.56" fill="#08f4fa"/>
<rect x="665.03" y="64.32" width="13.17" height="5.56" fill="#d4ff24"/>
<rect x="677.90" y="64.32" width="26.04" height="5.56" fill="#e8fc16"/>
<rect x="420.50" y="69.58" width="13.17" height="5.56" fill="#ffc000"/>
<rect x="433.37" y="69.58" width="13.17" height="5.56" fill="#ff9600"/>
<rect x="446.24" y="69.58" width="13.17" height="5.56" fill="#ff7f00"/>
<rect x="459.11" y="69.58" width="13.17" height="5.56" fill="#ffc000"/>
<rect x="471.98" y="69.58" width="13.17" height="5.56" fill="#fcf808"/>
<rect x="484.85" y="69.58" width="13.17" height="5.56" fill="#d4ff24"/>
<rect x="497.72" y="69.58" width="13.17" height="5.56" fill="#08a0f0"/>
<rect x="510.59" y="69.58" width="13.17" height="5.56" fill="#0881eb"/>
<rect x="523.46" y="69.58" width="13.17" height="5.56" fill="#22fadf"/>
<rect x="536.33" y="69.58" width="13.17" height="5.56" fill="#56ffa5"/>
<rect x="549.20" y="69.58" width="13.17" height="5.56" fill="#3cffc4"/>
<rect x="562.07" y="69.58" width="26.04" height="5.56" fill="#08f4fa"/>
<rect x="587.81" y="69.58" width="13.17" height="5.56" fill="#beff34"/>
<rect x="600.68" y="69.58" width="13.17" height="5.56" fill="#d4ff24"/>
<rect x="613.55" y="69.58" width="13.17" height="5.56" fill="#fcf808"/>
<rect x="626.42" y="69.58" width="13.17" height="5.56" fill="#ffc000"/>
<rect x="639.29" y="69.58" width="13.17" height="5.56" fill="#d4ff24"/>
<rect x="652.16" y="69.58" width="13.17" height="5.56" fill="#a8ff44"/>
<rect x="665.03" y="69.58" width="26.04" height="5.56" fill="#08caf5"/>
<rect x="690.77" y="69.58" width="13.17" height="5.56" fill="#08a0f0"/>
<rect x="420.50" y="74.84" width="13.17" height="5.56" fill="#ff9600"/>
<rect x="433.37" y="74.84" width="13.17" height="5.56" fill="#08a0f0"/>
<rect x="446.24" y="74.84" width="13.17" height="5.56" fill="#e8fc16"/>
<rect x="459.11" y="74.84" width="13.17" height="5.56" fill="#fcf808"/>
<rect x="471.98" y="74.84" width="13.17" height="5.56" fill="#08a0f0"/>
<rect x="484.85" y="74.84" width="13.17" height="5.56" fill="#d4ff24"/>
<rect x="497.72" y="74.84" width="13.17" height="5.56" fill="#8cff65"/>
<rect x="510.59" y="74.84" width="13.17" height="5.56" fill="#a8ff44"/>
<rect x="523.46" y="74.84" width="13.17" height="5.56" fill="#0881eb"/>
<rect x="536.33" y="74.84" width="13.17" height="5.56" fill="#56ffa5"/>
<rect x="549.20" y="74.84" width="13.17" height="5.56" fill="#3cffc4"/>
<rect x="562.07" y="74.84" width="13.17" height="5.56" fill="#08caf5"/>
<rect x="574.94" y="74.84" width="13.17" height="5.56" fill="#0881eb"/>
<rect x="587.81" y="74.84" width="13.17" height="5.56" fill="#d4ff24"/>
<rect x="600.68" y="74.84" width="13.17" height="5.56" fill="#08a0f0"/>
<rect x="613.55" y="74.84" width="13.17" height="5.56" fill="#d4ff24"/>
<rect x="626.42" y="74.84" width="13.17" height="5.56" fill="#0862e6"/>
<rect x="639.29" y="74.84" width="13.17" height="5.56" fill="#08a0f0"/>
<rect x="652.16" y="74.84" width="13.17" height="5.56" fill="#ff9600"/>
<rect x="665.03" y="74.84" width="13.17" height="5.56" fill="#fcf808"/>
<rect x="677.90" y="74.84" width="13.17" height="5.56" fill="#ff7f00"/>
<rect x="690.77" y="74.84" width="13.17" height="5.56" fill="#08caf5"/>
<rect x="420.50" y="80.10" width="26.04" height="5.56" fill="#08a0f0"/>
<rect x="446.24" y="80.10" width="13.17" height="5.56" fill="#08caf5"/>
<rect x="459.11" y="80.10" width="13.17" height="5.56" fill="#ff9600"/>
<rect x="471.98" y="80.10" width="13.17" height="5.56" fill="#e8fc16"/>
<rect x="484.85" y="80.10" width="13.17" height="5.56" fill="#08f4fa"/>
<rect x="497.72" y="80.10" width="13.17" height="5.56" fill="#fcf808"/>
<rect x="510.59" y="80.10" width="13.17" height="5.56" fill="#0881eb"/>
<rect x="523.46" y="80.10" width="13.17" height="5.56" fill="#e8fc16"/>
<rect x="536.33" y="80.10" width="26.04" height="5.56" fill="#08a0f0"/>
<rect x="562.07" y="80.10" width="13.17" height="5.56" fill="#0862e6"/>
<rect x="574.94" y="80.10" width="13.17" height="5.56" fill="#08caf5"/>
<rect x="587.81" y="80.10" width="13.17" height="5.56" fill="#3cffc4"/>
<rect x="600.68" y="80.10" width="13.17" height="5.56" fill="#ffdc00"/>
<rect x="613.55" y="80.10" width="13.17" height="5.56" fill="#a8ff44"/>
<rect x="626.42" y="80.10" width="13.17" height="5.56" fill="#d4ff24"/>
<rect x="639.29" y="80.10" width="13.17" height="5.56" fill="#fcf808"/>
<rect x="652.16" y="80.10" width="13.17" height="5.56" fill="#e8fc16"/>
<rect x="665.03" y="80.10" width="13.17" height="5.56" fill="#d4ff24"/>
<rect x="677.90" y="80.10" width="13.17" height="5.56" fill="#ffab00"/>
<rect x="690.77" y="80.10" width="13.17" height="5.56" fill="#ff9600"/>
<rect x="420.50" y="85.36" width="13.17" height="5.56" fill="#0881eb"/>
<rect x="433.37" y="85.36" width="13.17" height="5.56" fill="#08a0f0"/>
<rect x="446.24" y="85.36" width="13.17" height="5.56" fill="#ff5400"/>
<rect x="459.11" y="85.36" width="13.17" height="5.56" fill="#0881eb"/>
<rect x="471.98" y="85.36" width="13.17" height="5.56" fill="#08a0f0"/>
<rect x="484.85" y="85.36" width="13.17" height="5.56" fill="#08caf5"/>
<rect x="497.72" y="85.36" width="13.17" height="5.56" fill="#70ff86"/>
<rect x="510.59" y="85.36" width="13.17" height="5.56" fill="#a8ff44"/>
<rect x="523.46" y="85.36" width="13.17" height="5.56" fill="#70ff86"/>
<rect x="536.33" y="85.36" width="13.17" height="5.56" fill="#3cffc4"/>
<rect x="549.20" y="85.36" width="13.17" height="5.56" fill="#08f4fa"/>
<rect x="562.07" y="85.36" width="13.17" height="5.56" fill="#3cffc4"/>
<rect x="574.94" y="85.36" width="13.17" height="5.56" fill="#56ffa5"/>
<rect x="587.81" y="85.36" width="13.17" height="5.56" fill="#70ff86"/>
<rect x="600.68" y="85.36" width="13.17" height="5.56" fill="#a8ff44"/>
<rect x="613.55" y="85.36" width="13.17" height="5.56" fill="#beff34"/>
<rect x="626.42" y="85.36" width="13.17" height="5.56" fill="#ff7f00"/>
<rect x="639.29" y="85.36" width="13.17" height="5.56" fill="#e8fc16"/>
<rect x="652.16" y="85.36" width="13.17" height="5.56" fill="#d4ff24"/>
<rect x="665.03" y="85.36" width="13.17" height="5.56" fill="#a8ff44"/>
<rect x="677.90" y="85.36" width="13.17" height="5.56" fill="#ff6800"/>
<rect x="690.77" y="85.36" width="13.17" height="5.56" fill="#ffce00"/>
<rect x="420.50" y="90.62" width="13.17" height="5.56" fill="#0431cd"/>
<rect x="433.37" y="90.62" width="13.17" height="5.56" fill="#0862e6"/>
<rect x="446.24" y="90.62" width="13.17" height="5.56" fill="#fcf808"/>
<rect x="459.11" y="90.62" width="13.17" height="5.56" fill="#0881eb"/>
<rect x="471.98" y="90.62" width="13.17" height="5.56" fill="#08a0f0"/>
<rect x="484.85" y="90.62" width="13.17" height="5.56" fill="#3cffc4"/>
<rect x="497.72" y="90.62" width="13.17" height="5.56" fill="#08a0f0"/>
<rect x="510.59" y="90.62" width="13.17" height="5.56" fill="#a8ff44"/>
<rect x="523.46" y="90.62" width="13.17" height="5.56" fill="#e8fc16"/>
<rect x="536.33" y="90.62" width="13.17" height="5.56" fill="#d4ff24"/>
<rect x="549.20" y="90.62" width="26.04" height="5.56" fill="#08f4fa"/>
<rect x="574.94" y="90.62" width="13.17" height="5.56" fill="#08caf5"/>
<rect x="587.81" y="90.62" width="13.17" height="5.56" fill="#feea04"/>
<rect x="600.68" y="90.62" width="13.17" height="5.56" fill="#a8ff44"/>
<rect x="613.55" y="90.62" width="13.17" height="5.56" fill="#beff34"/>
<rect x="626.42" y="90.62" width="13.17" height="5.56" fill="#08a0f0"/>
<rect x="639.29" y="90.62" width="13.17" height="5.56" fill="#08f4fa"/>
<rect x="652.16" y="90.62" width="26.04" height="5.56" fill="#d4ff24"/>
<rect x="677.90" y="90.62" width="13.17" height="5.56" fill="#3cffc4"/>
<rect x="690.77" y="90.62" width="13.17" height="5.56" fill="#08f4fa"/>
<rect x="420.50" y="95.88" width="13.17" height="5.56" fill="#0862e6"/>
<rect x="433.37" y="95.88" width="13.17" height="5.56" fill="#d4ff24"/>
<rect x="446.24" y="95.88" width="13.17" height="5.56" fill="#0431cd"/>
<rect x="459.11" y="95.88" width="13.17" height="5.56" fill="#feea04"/>
<rect x="471.98" y="95.88" width="13.17" height="5.56" fill="#ff5400"/>
<rect x="484.85" y="95.88" width="13.17" height="5.56" fill="#70ff86"/>
<rect x="497.72" y="95.88" width="13.17" height="5.56" fill="#fcf808"/>
<rect x="510.59" y="95.88" width="13.17" height="5.56" fill="#ffc000"/>
<rect x="523.46" y="95.88" width="13.17" height="5.56" fill="#d4ff24"/>
<rect x="536.33" y="95.88" width="13.17" height="5.56" fill="#a8ff44"/>
<rect x="549.20" y="95.88" width="13.17" height="5.56" fill="#d4ff24"/>
<rect x="562.07" y="95.88" width="13.17" height="5.56" fill="#70ff86"/>
<rect x="574.94" y="95.88" width="13.17" height="5.56" fill="#a8ff44"/>
<rect x="587.81" y="95.88" width="13.17" height="5.56" fill="#0431cd"/>
<rect x="600.68" y="95.88" width="13.17" height="5.56" fill="#ff5400"/>
<rect x="613.55" y="95.88" width="13.17" height="5.56" fill="#d4ff24"/>
<rect x="626.42" y="95.88" width="13.17" height="5.56" fill="#0431cd"/>
<rect x="639.29" y="95.88" width="13.17" height="5.56" fill="#ff9600"/>
<rect x="652.16" y="95.88" width="13.17" height="5.56" fill="#ffc000"/>
<rect x="665.03" y="95.88" width="13.17" height="5.56" fill="#d4ff24"/>
<rect x="677.90" y="95.88" width="26.04" height="5.56" fill="#a8ff44"/>
<rect x="420.50" y="101.14" width="13.17" height="5.56" fill="#000096"/>
<rect x="433.37" y="101.14" width="13.17" height="5.56" fill="#000078"/>
<rect x="446.24" y="101.14" width="13.17" height="5.56" fill="#0000b4"/>
<rect x="459.11" y="101.14" width="13.17" height="5.56" fill="#000078"/>
<rect x="471.98" y="101.14" width="26.04" height="5.56" fill="#a8ff44"/>
<rect x="497.72" y="101.14" width="13.17" height="5.56" fill="#3cffc4"/>
<rect x="510.59" y="101.14" width="13.17" height="5.56" fill="#ff9600"/>
<rect x="523.46" y="101.14" width="13.17" height="5.56" fill="#fcf808"/>
<rect x="536.33" y="101.14" width="13.17" height="5.56" fill="#d4ff24"/>
<rect x="549.20" y="101.14" width="26.04" height="5.56" fill="#a8ff44"/>
<rect x="574.94" y="101.14" width="13.17" height="5.56" fill="#0881eb"/>
<rect x="587.81" y="101.14" width="13.17" height="5.56" fill="#0431cd"/>
<rect x="600.68" y="101.14" width="13.17" height="5.56" fill="#000078"/>
<rect x="613.55" y="101.14" width="13.17" height="5.56" fill="#ffdc00"/>
<rect x="626.42" y="101.14" width="13.17" height="5.56" fill="#0000b4"/>
<rect x="639.29" y="101.14" width="13.17" height="5.56" fill="#a8ff44"/>
<rect x="652.16" y="101.14" width="13.17" height="5.56" fill="#3cffc4"/>
<rect x="665.03" y="101.14" width="38.91" height="5.56" fill="#000078"/>
<rect x="420.50" y="106.40" width="26.04" height="5.56" fill="#0000b4"/>
<rect x="446.24" y="106.40" width="13.17" height="5.56" fill="#a8ff44"/>
<rect x="459.11" y="106.40" width="13.17" height="5.56" fill="#beff34"/>
<rect x="471.98" y="106.40" width="38.91" height="5.56" fill="#a8ff44"/>
<rect x="510.59" y="106.40" width="13.17" height="5.56" fill="#ff6800"/>
<rect x="523.46" y="106.40" width="13.17" height="5.56" fill="#d4ff24"/>
<rect x="536.33" y="106.40" width="26.04" height="5.56" fill="#70ff86"/>
<rect x="562.07" y="106.40" width="13.17" height="5.56" fill="#a8ff44"/>
<rect x="574.94" y="106.40" width="13.17" height="5.56" fill="#70ff86"/>
<rect x="587.81" y="106.40" width="13.17" height="5.56" fill="#08f4fa"/>
<rect x="600.68" y="106.40" width="13.17" height="5.56" fill="#70ff86"/>
<rect x="613.55" y="106.40" width="13.17" height="5.56" fill="#0431cd"/>
<rect x="626.42" y="106.40" width="13.17" height="5.56" fill="#a8ff44"/>
<rect x="639.29" y="106.40" width="13.17" height="5.56" fill="#3cffc4"/>
<rect x="652.16" y="106.40" width="13.17" height="5.56" fill="#ffc000"/>
<rect x="665.03" y="106.40" width="13.17" height="5.56" fill="#e8fc16"/>
<rect x="677.90" y="106.40" width="13.17" height="5.56" fill="#d4ff24"/>
<rect x="690.77" y="106.40" width="13.17" height="5.56" fill="#ffab00"/>
<rect x="420.50" y="111.66" width="13.17" height="5.56" fill="#0431cd"/>
<rect x="433.37" y="111.66" width="13.17" height="5.56" fill="#ff9600"/>
<rect x="446.24" y="111.66" width="13.17" height="5.56" fill="#0881eb"/>
<rect x="459.11" y="111.66" width="13.17" height="5.56" fill="#08a0f0"/>
<rect x="471.98" y="111.66" width="13.17" height="5.56" fill="#70ff86"/>
<rect x="484.85" y="111.66" width="13.17" height="5.56" fill="#a8ff44"/>
<rect x="497.72" y="111.66" width="13.17" height="5.56" fill="#d4ff24"/>
<rect x="510.59" y="111.66" width="13.17" height="5.56" fill="#a8ff44"/>
<rect x="523.46" y="111.66" width="13.17" height="5.56" fill="#d4ff24"/>
<rect x="536.33" y="111.66" width="26.04" height="5.56" fill="#08a0f0"/>
<rect x="562.07" y="111.66" width="13.17" height="5.56" fill="#a8ff44"/>
<rect x="574.94" y="111.66" width="13.17" height="5.56" fill="#0862e6"/>
<rect x="587.81" y="111.66" width="13.17" height="5.56" fill="#08caf5"/>
<rect x="600.68" y="111.66" width="13.17" height="5.56" fill="#fcf808"/>
<rect x="613.55" y="111.66" width="13.17" height="5.56" fill="#22fadf"/>
<rect x="626.42" y="111.66" width="13.17" height="5.56" fill="#a8ff44"/>
<rect x="639.29" y="111.66" width="13.17" height="5.56" fill="#ff7f00"/>
<rect x="652.16" y="111.66" width="13.17" height="5.56" fill="#d4ff24"/>
<rect x="665.03" y="111.66" width="13.17" height="5.56" fill="#3cffc4"/>
<rect x="677.90" y="111.66" width="13.17" height="5.56" fill="#56ffa5"/>
<rect x="690.77" y="111.66" width="13.17" height="5.56" fill="#8cff65"/>
<rect x="420.50" y="116.92" width="26.04" height="5.56" fill="#0881eb"/>
<rect x="446.24" y="116.92" width="13.17" height="5.56" fill="#70ff86"/>
<rect x="459.11" y="116.92" width="13.17" height="5.56" fill="#08a0f0"/>
<rect x="471.98" y="116.92" width="13.17" height="5.56" fill="#a8ff44"/>
<rect x="484.85" y="116.92" width="13.17" height="5.56" fill="#ff7f00"/>
<rect x="497.72" y="116.92" width="26.04" height="5.56" fill="#d4ff24"/>
<rect x="523.46" y="116.92" width="13.17" height="5.56" fill="#e8fc16"/>
<rect x="536.33" y="116.92" width="13.17" height="5.56" fill="#0881eb"/>
<rect x="549.20" y="116.92" width="13.17" height="5.56" fill="#08a0f0"/>
<rect x="562.07" y="116.92" width="13.17" height="5.56" fill="#a8ff44"/>
<rect x="574.94" y="116.92" width="13.17" height="5.56" fill="#08a0f0"/>
<rect x="587.81" y="116.92" width="13.17" height="5.56" fill="#ffce00"/>
<rect x="600.68" y="116.92" width="13.17" height="5.56" fill="#8cff65"/>
<rect x="613.55" y="116.92" width="13.17" height="5.56" fill="#fcf808"/>
<rect x="626.42" y="116.92" width="13.17" height="5.56" fill="#56ffa5"/>
<rect x="639.29" y="116.92" width="13.17" height="5.56" fill="#08caf5"/>
<rect x="652.16" y="116.92" width="13.17" height="5.56" fill="#56ffa5"/>
<rect x="665.03" y="116.92" width="26.04" height="5.56" fill="#3cffc4"/>
<rect x="690.77" y="116.92" width="13.17" height="5.56" fill="#70ff86"/>
<rect x="420.50" y="122.18" width="13.17" height="5.56" fill="#08a0f0"/>
<rect x="433.37" y="122.18" width="13.17" height="5.56" fill="#ff9600"/>
<rect x="446.24" y="122.18" width="13.17" height="5.56" fill="#08f4fa"/>
<rect x="459.11" y="122.18" width="13.17" height="5.56" fill="#d4ff24"/>
<rect x="471.98" y="122.18" width="13.17" height="5.56" fill="#ffdc00"/>
<rect x="484.85" y="122.18" width="13.17" height="5.56" fill="#a8ff44"/>
<rect x="497.72" y="122.18" width="13.17" height="5.56" fill="#beff34"/>
<rect x="510.59" y="122.18" width="13.17" height="5.56" fill="#0881eb"/>
<rect x="523.46" y="122.18" width="13.17" height="5.56" fill="#fcf808"/>
<rect x="536.33" y="122.18" width="13.17" height="5.56" fill="#3cffc4"/>
<rect x="549.20" y="122.18" width="13.17" height="5.56" fill="#08a0f0"/>
<rect x="562.07" y="122.18" width="13.17" height="5.56" fill="#0881eb"/>
<rect x="574.94" y="122.18" width="13.17" height="5.56" fill="#a8ff44"/>
<rect x="587.81" y="122.18" width="13.17" height="5.56" fill="#08caf5"/>
<rect x="600.68" y="122.18" width="13.17" height="5.56" fill="#3cffc4"/>
<rect x="613.55" y="122.18" width="13.17" height="5.56" fill="#0862e6"/>
<rect x="626.42" y="122.18" width="13.17" height="5.56" fill="#0000b4"/>
<rect x="639.29" y="122.18" width="13.17" height="5.56" fill="#08a0f0"/>
<rect x="652.16" y="122.18" width="13.17" height="5.56" fill="#ff9600"/>
<rect x="665.03" y="122.18" width="13.17" height="5.56" fill="#d4ff24"/>
<rect x="677.90" y="122.18" width="13.17" height="5.56" fill="#beff34"/>
<rect x="690.77" y="122.18" width="13.17" height="5.56" fill="#22fadf"/>
<rect x="420.50" y="127.44" width="13.17" height="5.56" fill="#3cffc4"/>
<rect x="433.37" y="127.44" width="13.17" height="5.56" fill="#beff34"/>
<rect x="446.24" y="127.44" width="13.17" height="5.56" fill="#ffdc00"/>
<rect x="459.11" y="127.44" width="13.17" height="5.56" fill="#feea04"/>
<rect x="471.98" y="127.44" width="13.17" height="5.56" fill="#fcf808"/>
<rect x="484.85" y="127.44" width="13.17" height="5.56" fill="#ffdc00"/>
<rect x="497.72" y="127.44" width="13.17" height="5.56" fill="#d4ff24"/>
<rect x="510.59" y="127.44" width="13.17" height="5.56" fill="#70ff86"/>
<rect x="523.46" y="127.44" width="13.17" height="5.56" fill="#08f4fa"/>
<rect x="536.33" y="127.44" width="13.17" height="5.56" fill="#56ffa5"/>
<rect x="549.20" y="127.44" width="13.17" height="5.56" fill="#08caf5"/>
<rect x="562.07" y="127.44" width="13.17" height="5.56" fill="#08f4fa"/>
<rect x="574.94" y="127.44" width="13.17" height="5.56" fill="#a8ff44"/>
<rect x="587.81" y="127.44" width="26.04" height="5.56" fill="#70ff86"/>
<rect x="613.55" y="127.44" width="13.17" height="5.56" fill="#d4ff24"/>
<rect x="626.42" y="127.44" width="13.17" height="5.56" fill="#e8fc16"/>
<rect x="639.29" y="127.44" width="13.17" height="5.56" fill="#56ffa5"/>
<rect x="652.16" y="127.44" width="13.17" height="5.56" fill="#feea04"/>
<rect x="665.03" y="127.44" width="13.17" height="5.56" fill="#d4ff24"/>
<rect x="677.90" y="127.44" width="13.17" height="5.56" fill="#22fadf"/>
<rect x="690.77" y="127.44" width="13.17" height="5.56" fill="#ffce00"/>
<rect x="420.50" y="132.70" width="26.04" height="5.56" fill="#08caf5"/>
<rect x="446.24" y="132.70" width="13.17" height="5.56" fill="#ffdc00"/>
<rect x="459.11" y="132.70" width="13.17" height="5.56" fill="#d4ff24"/>
<rect x="471.98" y="132.70" width="13.17" height="5.56" fill="#08a0f0"/>
<rect x="484.85" y="132.70" width="13.17" height="5.56" fill="#a8ff44"/>
<rect x="497.72" y="132.70" width="13.17" height="5.56" fill="#d4ff24"/>
<rect x="510.59" y="132.70" width="13.17" height="5.56" fill="#08a0f0"/>
<rect x="523.46" y="132.70" width="13.17" height="5.56" fill="#70ff86"/>
<rect x="536.33" y="132.70" width="13.17" height="5.56" fill="#08f4fa"/>
<rect x="549.20" y="132.70" width="13.17" height="5.56" fill="#0862e6"/>
<rect x="562.07" y="132.70" width="13.17" height="5.56" fill="#3cffc4"/>
<rect x="574.94" y="132.70" width="13.17" height="5.56" fill="#56ffa5"/>
<rect x="587.81" y="132.70" width="13.17" height="5.56" fill="#08a0f0"/>
<rect x="600.68" y="132.70" width="13.17" height="5.56" fill="#d4ff24"/>
<rect x="613.55" y="132.70" width="13.17" height="5.56" fill="#ff9600"/>
<rect x="626.42" y="132.70" width="13.17" height="5.56" fill="#ff0c08"/>
<rect x="639.29" y="132.70" width="13.17" height="5.56" fill="#08f4fa"/>
<rect x="652.16" y="132.70" width="13.17" height="5.56" fill="#08caf5"/>
<rect x="665.03" y="132.70" width="13.17" height="5.56" fill="#e8fc16"/>
<rect x="677.90" y="132.70" width="13.17" height="5.56" fill="#ffc000"/>
<rect x="690.77" y="132.70" width="13.17" height="5.56" fill="#a8ff44"/>
<rect x="420.50" y="137.96" width="13.17" height="5.56" fill="#ff7f00"/>
<rect x="433.37" y="137.96" width="13.17" height="5.56" fill="#08f4fa"/>
<rect x="446.24" y="137.96" width="13.17" height="5.56" fill="#fcf808"/>
<rect x="459.11" y="137.96" width="13.17" height="5.56" fill="#08f4fa"/>
<rect x="471.98" y="137.96" width="13.17" height="5.56" fill="#ff9600"/>
<rect x="484.85" y="137.96" width="13.17" height="5.56" fill="#a8ff44"/>
<rect x="497.72" y="137.96" width="13.17" height="5.56" fill="#08a0f0"/>
<rect x="510.59" y="137.96" width="13.17" height="5.56" fill="#d4ff24"/>
<rect x="523.46" y="137.96" width="13.17" height="5.56" fill="#70ff86"/>
<rect x="536.33" y="137.96" width="13.17" height="5.56" fill="#ffc000"/>
<rect x="549.20" y="137.96" width="13.17" height="5.56" fill="#0881eb"/>
<rect x="562.07" y="137.96" width="13.17" height="5.56" fill="#3cffc4"/>
<rect x="574.94" y="137.96" width="13.17" height="5.56" fill="#56ffa5"/>
<rect x="587.81" y="137.96" width="13.17" height="5.56" fill="#d4ff24"/>
<rect x="600.68" y="137.96" width="13.17" height="5.56" fill="#ff0c08"/>
<rect x="613.55" y="137.96" width="26.04" height="5.56" fill="#ff3434"/>
<rect x="639.29" y="137.96" width="13.17" height="5.56" fill="#08caf5"/>
<rect x="652.16" y="137.96" width="13.17" height="5.56" fill="#08a0f0"/>
<rect x="665.03" y="137.96" width="13.17" height="5.56" fill="#08f4fa"/>
<rect x="677.90" y="137.96" width="13.17" height="5.56" fill="#ffab00"/>
<rect x="690.77" y="137.96" width="13.17" height="5.56" fill="#fcf808"/>
<rect x="420.50" y="143.22" width="13.17" height="5.56" fill="#0862e6"/>
<rect x="433.37" y="143.22" width="13.17" height="5.56" fill="#fcf808"/>
<rect x="446.24" y="143.22" width="13.17" height="5.56" fill="#a8ff44"/>
<rect x="459.11" y="143.22" width="13.17" height="5.56" fill="#70ff86"/>
<rect x="471.98" y="143.22" width="26.04" height="5.56" fill="#0881eb"/>
<rect x="497.72" y="143.22" width="13.17" height="5.56" fill="#d4ff24"/>
<rect x="510.59" y="143.22" width="13.17" height="5.56" fill="#3cffc4"/>
<rect x="523.46" y="143.22" width="13.17" height="5.56" fill="#ff2604"/>
<rect x="536.33" y="143.22" width="13.17" height="5.56" fill="#ff4000"/>
<rect x="549.20" y="143.22" width="13.17" height="5.56" fill="#08a0f0"/>
<rect x="562.07" y="143.22" width="13.17" height="5.56" fill="#22fadf"/>
<rect x="574.94" y="143.22" width="13.17" height="5.56" fill="#ff3434"/>
<rect x="587.81" y="143.22" width="13.17" height="5.56" fill="#70ff86"/>
<rect x="600.68" y="143.22" width="13.17" height="5.56" fill="#d4ff24"/>
<rect x="613.55" y="143.22" width="26.04" height="5.56" fill="#ff3434"/>
<rect x="639.29" y="143.22" width="13.17" height="5.56" fill="#ff201e"/>
<rect x="652.16" y="143.22" width="13.17" height="5.56" fill="#ffab00"/>
<rect x="665.03" y="143.22" width="13.17" height="5.56" fill="#3cffc4"/>
<rect x="677.90" y="143.22" width="13.17" height="5.56" fill="#08caf5"/>
<rect x="690.77" y="143.22" width="13.17" height="5.56" fill="#fcf808"/>
<rect x="420.50" y="148.48" width="26.04" height="5.56" fill="#ff9600"/>
<rect x="446.24" y="148.48" width="13.17" height="5.56" fill="#a8ff44"/>
<rect x="459.11" y="148.48" width="13.17" height="5.56" fill="#0431cd"/>
<rect x="471.98" y="148.48" width="13.17" height="5.56" fill="#d4ff24"/>
<rect x="484.85" y="148.48" width="13.17" height="5.56" fill="#ffab00"/>
<rect x="497.72" y="148.48" width="13.17" height="5.56" fill="#ffc000"/>
<rect x="510.59" y="148.48" width="13.17" height="5.56" fill="#ffab00"/>
<rect x="523.46" y="148.48" width="13.17" height="5.56" fill="#ff201e"/>
<rect x="536.33" y="148.48" width="13.17" height="5.56" fill="#ff0c08"/>
<rect x="549.20" y="148.48" width="13.17" height="5.56" fill="#ff4000"/>
<rect x="562.07" y="148.48" width="13.17" height="5.56" fill="#ff201e"/>
<rect x="574.94" y="148.48" width="26.04" height="5.56" fill="#ff3434"/>
<rect x="600.68" y="148.48" width="13.17" height="5.56" fill="#ff2604"/>
<rect x="613.55" y="148.48" width="13.17" height="5.56" fill="#ff3434"/>
<rect x="626.42" y="148.48" width="13.17" height="5.56" fill="#ff4646"/>
<rect x="639.29" y="148.48" width="13.17" height="5.56" fill="#ff3434"/>
<rect x="652.16" y="148.48" width="13.17" height="5.56" fill="#ff7f00"/>
<rect x="665.03" y="148.48" width="13.17" height="5.56" fill="#08f4fa"/>
<rect x="677.90" y="148.48" width="13.17" height="5.56" fill="#d4ff24"/>
<rect x="690.77" y="148.48" width="13.17" height="5.56" fill="#ff5400"/>
<rect x="420.50" y="153.74" width="13.17" height="5.56" fill="#ffc000"/>
<rect x="433.37" y="153.74" width="13.17" height="5.56" fill="#000078"/>
<rect x="446.24" y="153.74" width="13.17" height="5.56" fill="#ffdc00"/>
<rect x="459.11" y="153.74" width="13.17" height="5.56" fill="#fcf808"/>
<rect x="471.98" y="153.74" width="13.17" height="5.56" fill="#ff7f00"/>
<rect x="484.85" y="153.74" width="13.17" height="5.56" fill="#ff9600"/>
<rect x="497.72" y="153.74" width="13.17" height="5.56" fill="#ff5400"/>
<rect x="510.59" y="153.74" width="13.17" height="5.56" fill="#ff0c08"/>
<rect x="523.46" y="153.74" width="13.17" height="5.56" fill="#ff3434"/>
<rect x="536.33" y="153.74" width="51.78" height="5.56" fill="#ff4646"/>
<rect x="587.81" y="153.74" width="13.17" height="5.56" fill="#ff5858"/>
<rect x="600.68" y="153.74" width="13.17" height="5.56" fill="#ff0c08"/>
<rect x="613.55" y="153.74" width="13.17" height="5.56" fill="#ff4646"/>
<rect x="626.42" y="153.74" width="13.17" height="5.56" fill="#ff5858"/>
<rect x="639.29" y="153.74" width="13.17" height="5.56" fill="#56ffa5"/>
<rect x="652.16" y="153.74" width="13.17" height="5.56" fill="#ffab00"/>
<rect x="665.03" y="153.74" width="13.17" height="5.56" fill="#ffc000"/>
<rect x="677.90" y="153.74" width="13.17" height="5.56" fill="#ff9600"/>
<rect x="690.77" y="153.74" width="13.17" height="5.56" fill="#beff34"/>
<rect x="420.50" y="159.00" width="13.17" height="5.56" fill="#e8fc16"/>
<rect x="433.37" y="159.00" width="13.17" height="5.56" fill="#d4ff24"/>
<rect x="446.24" y="159.00" width="13.17" height="5.56" fill="#fcf808"/>
<rect x="459.11" y="159.00" width="13.17" height="5.56" fill="#0862e6"/>
<rect x="471.98" y="159.00" width="13.17" height="5.56" fill="#70ff86"/>
<rect x="484.85" y="159.00" width="13.17" height="5.56" fill="#ffdc00"/>
<rect x="497.72" y="159.00" width="13.17" height="5.56" fill="#ffce00"/>
<rect x="510.59" y="159.00" width="13.17" height="5.56" fill="#ff9600"/>
<rect x="523.46" y="159.00" width="13.17" height="5.56" fill="#ff2604"/>
<rect x="536.33" y="159.00" width="13.17" height="5.56" fill="#ff3434"/>
<rect x="549.20" y="159.00" width="13.17" height="5.56" fill="#ff4646"/>
<rect x="562.07" y="159.00" width="26.04" height="5.56" fill="#ff3434"/>
<rect x="587.81" y="159.00" width="38.91" height="5.56" fill="#ff4646"/>
<rect x="626.42" y="159.00" width="13.17" height="5.56" fill="#ff5858"/>
<rect x="639.29" y="159.00" width="13.17" height="5.56" fill="#ff3434"/>
<rect x="652.16" y="159.00" width="13.17" height="5.56" fill="#feea04"/>
<rect x="665.03" y="159.00" width="13.17" height="5.56" fill="#8cff65"/>
<rect x="677.90" y="159.00" width="13.17" height="5.56" fill="#22fadf"/>
<rect x="690.77" y="159.00" width="13.17" height="5.56" fill="#0000b4"/>
<rect x="420.50" y="164.26" width="13.17" height="5.56" fill="#0000b4"/>
<rect x="433.37" y="164.26" width="13.17" height="5.56" fill="#ffc000"/>
<rect x="446.24" y="164.26" width="13.17" height="5.56" fill="#0881eb"/>
<rect x="459.11" y="164.26" width="13.17" height="5.56" fill="#08caf5"/>
<rect x="471.98" y="164.26" width="13.17" height="5.56" fill="#0881eb"/>
<rect x="484.85" y="164.26" width="13.17" height="5.56" fill="#d4ff24"/>
<rect x="497.72" y="164.26" width="13.17" height="5.56" fill="#08f4fa"/>
<rect x="510.59" y="164.26" width="13.17" height="5.56" fill="#fcf808"/>
<rect x="523.46" y="164.26" width="13.17" height="5.56" fill="#ff7f00"/>
<rect x="536.33" y="164.26" width="13.17" height="5.56" fill="#ff0c08"/>
<rect x="549.20" y="164.26" width="13.17" height="5.56" fill="#ff3434"/>
<rect x="562.07" y="164.26" width="13.17" height="5.56" fill="#ff0c08"/>
<rect x="574.94" y="164.26" width="13.17" height="5.56" fill="#a8ff44"/>
<rect x="587.81" y="164.26" width="13.17" height="5.56" fill="#ff0c08"/>
<rect x="600.68" y="164.26" width="13.17" height="5.56" fill="#ff201e"/>
<rect x="613.55" y="164.26" width="13.17" height="5.56" fill="#ff0c08"/>
<rect x="626.42" y="164.26" width="13.17" height="5.56" fill="#ff5858"/>
<rect x="639.29" y="164.26" width="13.17" height="5.56" fill="#ff3434"/>
<rect x="652.16" y="164.26" width="13.17" height="5.56" fill="#ffdc00"/>
<rect x="665.03" y="164.26" width="13.17" height="5.56" fill="#8cff65"/>
<rect x="677.90" y="164.26" width="13.17" height="5.56" fill="#0881eb"/>
<rect x="690.77" y="164.26" width="13.17" height="5.56" fill="#ffab00"/>
<rect x="420.50" y="169.52" width="26.04" height="5.56" fill="#ffc000"/>
<rect x="446.24" y="169.52" width="13.17" height="5.56" fill="#ff9600"/>
<rect x="459.11" y="169.52" width="13.17" height="5.56" fill="#ffc000"/>
<rect x="471.98" y="169.52" width="13.17" height="5.56" fill="#08a0f0"/>
<rect x="484.85" y="169.52" width="13.17" height="5.56" fill="#ffc000"/>
<rect x="497.72" y="169.52" width="13.17" height="5.56" fill="#d4ff24"/>
<rect x="510.59" y="169.52" width="13.17" height="5.56" fill="#ff2604"/>
<rect x="523.46" y="169.52" width="13.17" height="5.56" fill="#56ffa5"/>
<rect x="536.33" y="169.52" width="13.17" height="5.56" fill="#70ff86"/>
<rect x="549.20" y="169.52" width="13.17" height="5.56" fill="#08a0f0"/>
<rect x="562.07" y="169.52" width="13.17" height="5.56" fill="#ff0c08"/>
<rect x="574.94" y="169.52" width="13.17" height="5.56" fill="#ff201e"/>
<rect x="587.81" y="169.52" width="13.17" height="5.56" fill="#ff3434"/>
<rect x="600.68" y="169.52" width="13.17" height="5.56" fill="#d4ff24"/>
<rect x="613.55" y="169.52" width="13.17" height="5.56" fill="#ff3434"/>
<rect x="626.42" y="169.52" width="13.17" height="5.56" fill="#ff4646"/>
<rect x="639.29" y="169.52" width="13.17" height="5.56" fill="#ff4000"/>
<rect x="652.16" y="169.52" width="13.17" height="5.56" fill="#ffdc00"/>
<rect x="665.03" y="169.52" width="13.17" height="5.56" fill="#08a0f0"/>
<rect x="677.90" y="169.52" width="13.17" height="5.56" fill="#0881eb"/>
<rect x="690.77" y="169.52" width="13.17" height="5.56" fill="#08a0f0"/>
<rect x="420.50" y="174.78" width="13.17" height="5.56" fill="#08a0f0"/>
<rect x="433.37" y="174.78" width="13.17" height="5.56" fill="#ff9600"/>
<rect x="446.24" y="174.78" width="13.17" height="5.56" fill="#8cff65"/>
<rect x="459.11" y="174.78" width="26.04" height="5.56" fill="#08a0f0"/>
<rect x="484.85" y="174.78" width="13.17" height="5.56" fill="#56ffa5"/>
<rect x="497.72" y="174.78" width="13.17" height="5.56" fill="#d4ff24"/>
<rect x="510.59" y="174.78" width="13.17" height="5.56" fill="#fcf808"/>
<rect x="523.46" y="174.78" width="26.04" height="5.56" fill="#70ff86"/>
<rect x="549.20" y="174.78" width="13.17" height="5.56" fill="#0881eb"/>
<rect x="562.07" y="174.78" width="13.17" height="5.56" fill="#70ff86"/>
<rect x="574.94" y="174.78" width="13.17" height="5.56" fill="#ffce00"/>
<rect x="587.81" y="174.78" width="13.17" height="5.56" fill="#0881eb"/>
<rect x="600.68" y="174.78" width="13.17" height="5.56" fill="#e8fc16"/>
<rect x="613.55" y="174.78" width="13.17" height="5.56" fill="#ff0c08"/>
<rect x="626.42" y="174.78" width="13.17" height="5.56" fill="#ff3434"/>
<rect x="639.29" y="174.78" width="13.17" height="5.56" fill="#ffdc00"/>
<rect x="652.16" y="174.78" width="13.17" height="5.56" fill="#56ffa5"/>
<rect x="665.03" y="174.78" width="13.17" height="5.56" fill="#ff9600"/>
<rect x="677.90" y="174.78" width="13.17" height="5.56" fill="#ffc000"/>
<rect x="690.77" y="174.78" width="13.17" height="5.56" fill="#ffdc00"/>
<rect x="420.50" y="180.04" width="13.17" height="5.56" fill="#ffc000"/>
<rect x="433.37" y="180.04" width="13.17" height="5.56" fill="#ff6800"/>
<rect x="446.24" y="180.04" width="13.17" height="5.56" fill="#ffdc00"/>
<rect x="459.11" y="180.04" width="13.17" height="5.56" fill="#beff34"/>
<rect x="471.98" y="180.04" width="13.17" height="5.56" fill="#d4ff24"/>
<rect x="484.85" y="180.04" width="13.17" height="5.56" fill="#ffdc00"/>
<rect x="497.72" y="180.04" width="13.17" height="5.56" fill="#d4ff24"/>
<rect x="510.59" y="180.04" width="13.17" height="5.56" fill="#0881eb"/>
<rect x="523.46" y="180.04" width="13.17" height="5.56" fill="#70ff86"/>
<rect x="536.33" y="180.04" width="13.17" height="5.56" fill="#d4ff24"/>
<rect x="549.20" y="180.04" width="13.17" height="5.56" fill="#3cffc4"/>
<rect x="562.07" y="180.04" width="13.17" height="5.56" fill="#56ffa5"/>
<rect x="574.94" y="180.04" width="13.17" height="5.56" fill="#a8ff44"/>
<rect x="587.81" y="180.04" width="13.17" height="5.56" fill="#08a0f0"/>
<rect x="600.68" y="180.04" width="13.17" height="5.56" fill="#70ff86"/>
<rect x="613.55" y="180.04" width="13.17" height="5.56" fill="#22fadf"/>
<rect x="626.42" y="180.04" width="13.17" height="5.56" fill="#ff0c08"/>
<rect x="639.29" y="180.04" width="13.17" height="5.56" fill="#a8ff44"/>
<rect x="652.16" y="180.04" width="13.17" height="5.56" fill="#e8fc16"/>
<rect x="665.03" y="180.04" width="13.17" height="5.56" fill="#ff9600"/>
<rect x="677.90" y="180.04" width="26.04" height="5.56" fill="#ff6800"/>
<rect x="420.50" y="185.30" width="13.17" height="5.56" fill="#a8ff44"/>
<rect x="433.37" y="185.30" width="13.17" height="5.56" fill="#ff6800"/>
<rect x="446.24" y="185.30" width="26.04" height="5.56" fill="#fcf808"/>
<rect x="471.98" y="185.30" width="13.17" height="5.56" fill="#d4ff24"/>
<rect x="484.85" y="185.30" width="13.17" height="5.56" fill="#08caf5"/>
<rect x="497.72" y="185.30" width="13.17" height="5.56" fill="#70ff86"/>
<rect x="510.59" y="185.30" width="13.17" height="5.56" fill="#56ffa5"/>
<rect x="523.46" y="185.30" width="13.17" height="5.56" fill="#08f4fa"/>
<rect x="536.33" y="185.30" width="13.17" height="5.56" fill="#56ffa5"/>
<rect x="549.20" y="185.30" width="13.17" height="5.56" fill="#3cffc4"/>
<rect x="562.07" y="185.30" width="13.17" height="5.56" fill="#e8fc16"/>
<rect x="574.94" y="185.30" width="13.17" height="5.56" fill="#a8ff44"/>
<rect x="587.81" y="185.30" width="13.17" height="5.56" fill="#0862e6"/>
<rect x="600.68" y="185.30" width="13.17" height="5.56" fill="#3cffc4"/>
<rect x="613.55" y="185.30" width="13.17" height="5.56" fill="#ff9600"/>
<rect x="626.42" y="185.30" width="13.17" height="5.56" fill="#fcf808"/>
<rect x="639.29" y="185.30" width="13.17" height="5.56" fill="#ffab00"/>
<rect x="652.16" y="185.30" width="13.17" height="5.56" fill="#3cffc4"/>
<rect x="665.03" y="185.30" width="13.17" height="5.56" fill="#56ffa5"/>
<rect x="677.90" y="185.30" width="26.04" height="5.56" fill="#08caf5"/>
<rect x="420.50" y="190.56" width="13.17" height="5.56" fill="#08a0f0"/>
<rect x="433.37" y="190.56" width="13.17" height="5.56" fill="#ffdc00"/>
<rect x="446.24" y="190.56" width="13.17" height="5.56" fill="#ffc000"/>
<rect x="459.11" y="190.56" width="13.17" height="5.56" fill="#ff7f00"/>
<rect x="471.98" y="190.56" width="13.17" height="5.56" fill="#ffdc00"/>
<rect x="484.85" y="190.56" width="13.17" height="5.56" fill="#ff9600"/>
<rect x="497.72" y="190.56" width="13.17" height="5.56" fill="#000096"/>
<rect x="510.59" y="190.56" width="13.17" height="5.56" fill="#d4ff24"/>
<rect x="523.46" y="190.56" width="13.17" height="5.56" fill="#a8ff44"/>
<rect x="536.33" y="190.56" width="13.17" height="5.56" fill="#22fadf"/>
<rect x="549.20" y="190.56" width="13.17" height="5.56" fill="#3cffc4"/>
<rect x="562.07" y="190.56" width="13.17" height="5.56" fill="#08caf5"/>
<rect x="574.94" y="190.56" width="13.17" height="5.56" fill="#08f4fa"/>
<rect x="587.81" y="190.56" width="38.91" height="5.56" fill="#d4ff24"/>
<rect x="626.42" y="190.56" width="13.17" height="5.56" fill="#08f4fa"/>
<rect x="639.29" y="190.56" width="13.17" height="5.56" fill="#ffce00"/>
<rect x="652.16" y="190.56" width="13.17" height="5.56" fill="#ffab00"/>
<rect x="665.03" y="190.56" width="13.17" height="5.56" fill="#70ff86"/>
<rect x="677.90" y="190.56" width="13.17" height="5.56" fill="#0000b4"/>
<rect x="690.77" y="190.56" width="13.17" height="5.56" fill="#08f4fa"/>
<rect x="420.50" y="195.82" width="13.17" height="5.56" fill="#70ff86"/>
<rect x="433.37" y="195.82" width="13.17" height="5.56" fill="#0862e6"/>
<rect x="446.24" y="195.82" width="13.17" height="5.56" fill="#a8ff44"/>
<rect x="459.11" y="195.82" width="26.04" height="5.56" fill="#0881eb"/>
<rect x="484.85" y="195.82" width="26.04" height="5.56" fill="#ff9600"/>
<rect x="510.59" y="195.82" width="13.17" height="5.56" fill="#08f4fa"/>
<rect x="523.46" y="195.82" width="13.17" height="5.56" fill="#a8ff44"/>
<rect x="536.33" y="195.82" width="13.17" height="5.56" fill="#22fadf"/>
<rect x="549.20" y="195.82" width="13.17" height="5.56" fill="#3cffc4"/>
<rect x="562.07" y="195.82" width="13.17" height="5.56" fill="#70ff86"/>
<rect x="574.94" y="195.82" width="13.17" height="5.56" fill="#08f4fa"/>
<rect x="587.81" y="195.82" width="13.17" height="5.56" fill="#d4ff24"/>
<rect x="600.68" y="195.82" width="13.17" height="5.56" fill="#fcf808"/>
<rect x="613.55" y="195.82" width="13.17" height="5.56" fill="#d4ff24"/>
<rect x="626.42" y="195.82" width="13.17" height="5.56" fill="#0862e6"/>
<rect x="639.29" y="195.82" width="13.17" height="5.56" fill="#e8fc16"/>
<rect x="652.16" y="195.82" width="13.17" height="5.56" fill="#08f4fa"/>
<rect x="665.03" y="195.82" width="26.04" height="5.56" fill="#3cffc4"/>
<rect x="690.77" y="195.82" width="13.17" height="5.56" fill="#fcf808"/>
<rect x="420.50" y="201.08" width="13.17" height="5.56" fill="#ff7f00"/>
<rect x="433.37" y="201.08" width="13.17" height="5.56" fill="#a8ff44"/>
<rect x="446.24" y="201.08" width="13.17" height="5.56" fill="#0862e6"/>
<rect x="459.11" y="201.08" width="13.17" height="5.56" fill="#ffab00"/>
<rect x="471.98" y="201.08" width="13.17" height="5.56" fill="#0862e6"/>
<rect x="484.85" y="201.08" width="13.17" height="5.56" fill="#ff5400"/>
<rect x="497.72" y="201.08" width="26.04" height="5.56" fill="#d4ff24"/>
<rect x="523.46" y="201.08" width="13.17" height="5.56" fill="#56ffa5"/>
<rect x="536.33" y="201.08" width="13.17" height="5.56" fill="#a8ff44"/>
<rect x="549.20" y="201.08" width="13.17" height="5.56" fill="#3cffc4"/>
<rect x="562.07" y="201.08" width="13.17" height="5.56" fill="#d4ff24"/>
<rect x="574.94" y="201.08" width="13.17" height="5.56" fill="#a8ff44"/>
<rect x="587.81" y="201.08" width="13.17" height="5.56" fill="#08f4fa"/>
<rect x="600.68" y="201.08" width="13.17" height="5.56" fill="#fcf808"/>
<rect x="613.55" y="201.08" width="13.17" height="5.56" fill="#0881eb"/>
<rect x="626.42" y="201.08" width="13.17" height="5.56" fill="#0000b4"/>
<rect x="639.29" y="201.08" width="13.17" height="5.56" fill="#ff6800"/>
<rect x="652.16" y="201.08" width="26.04" height="5.56" fill="#a8ff44"/>
<rect x="677.90" y="201.08" width="13.17" height="5.56" fill="#d4ff24"/>
<rect x="690.77" y="201.08" width="13.17" height="5.56" fill="#ff9600"/>
<rect x="420.50" y="206.34" width="13.17" height="5.56" fill="#ffab00"/>
<rect x="433.37" y="206.34" width="13.17" height="5.56" fill="#a8ff44"/>
<rect x="446.24" y="206.34" width="13.17" height="5.56" fill="#ffab00"/>
<rect x="459.11" y="206.34" width="13.17" height="5.56" fill="#ff9600"/>
<rect x="471.98" y="206.34" width="13.17" height="5.56" fill="#ffdc00"/>
<rect x="484.85" y="206.34" width="13.17" height="5.56" fill="#ff0c08"/>
<rect x="497.72" y="206.34" width="13.17" height="5.56" fill="#d4ff24"/>
<rect x="510.59" y="206.34" width="13.17" height="5.56" fill="#ff9600"/>
<rect x="523.46" y="206.34" width="13.17" height="5.56" fill="#56ffa5"/>
<rect x="536.33" y="206.34" width="13.17" height="5.56" fill="#a8ff44"/>
<rect x="549.20" y="206.34" width="13.17" height="5.56" fill="#3cffc4"/>
<rect x="562.07" y="206.34" width="13.17" height="5.56" fill="#d4ff24"/>
<rect x="574.94" y="206.34" width="13.17" height="5.56" fill="#e8fc16"/>
<rect x="587.81" y="206.34" width="13.17" height="5.56" fill="#0431cd"/>
<rect x="600.68" y="206.34" width="13.17" height="5.56" fill="#08a0f0"/>
<rect x="613.55" y="206.34" width="13.17" height="5.56" fill="#ffdc00"/>
<rect x="626.42" y="206.34" width="26.04" height="5.56" fill="#fcf808"/>
<rect x="652.16" y="206.34" width="38.91" height="5.56" fill="#000078"/>
<rect x="690.77" y="206.34" width="13.17" height="5.56" fill="#000096"/></g></svg>
<g stroke="#000" stroke-width="1" fill="none" shape-rendering="crispEdges">
<line x1="414.00" y1="0.50" x2="709.50" y2="0.50" stroke-opacity="0.5"/>
<line x1="414.50" y1="0.40" x2="414.50" y2="212.00"/>
<line x1="709.00" y1="0.40" x2="709.00" y2="212.00"/>
<line x1="414.00" y1="211.50" x2="709.50" y2="211.50"/>
<line x1="420.86" y1="211.50" x2="420.86" y2="208.50"/>
<line x1="420.86" y1="0.40" x2="420.86" y2="3.40"/>
<line x1="453.03" y1="211.50" x2="453.03" y2="208.50"/>
<line x1="453.03" y1="0.40" x2="453.03" y2="3.40"/>
<line x1="477.98" y1="211.50" x2="477.98" y2="208.50"/>
<line x1="477.98" y1="0.40" x2="477.98" y2="3.40"/>
<line x1="498.37" y1="211.50" x2="498.37" y2="208.50"/>
<line x1="498.37" y1="0.40" x2="498.37" y2="3.40"/>
<line x1="515.61" y1="211.50" x2="515.61" y2="208.50"/>
<line x1="515.61" y1="0.40" x2="515.61" y2="3.40"/>
<line x1="530.55" y1="211.50" x2="530.55" y2="208.50"/>
<line x1="530.55" y1="0.40" x2="530.55" y2="3.40"/>
<line x1="543.72" y1="211.50" x2="543.72" y2="208.50"/>
<line x1="543.72" y1="0.40" x2="543.72" y2="3.40"/>
<line x1="555.50" y1="211.50" x2="555.50" y2="205.50"/>
<line x1="555.50" y1="0.40" x2="555.50" y2="6.40"/>
<line x1="633.02" y1="211.50" x2="633.02" y2="208.50"/>
<line x1="633.02" y1="0.40" x2="633.02" y2="3.40"/>
<line x1="678.36" y1="211.50" x2="678.36" y2="208.50"/>
<line x1="678.36" y1="0.40" x2="678.36" y2="3.40"/>
<line x1="414.50" y1="209.30" x2="420.80" y2="209.30"/>
<line x1="709.00" y1="209.30" x2="702.70" y2="209.30"/>
<line x1="414.50" y1="175.70" x2="417.50" y2="175.70"/>
<line x1="709.00" y1="175.70" x2="706.00" y2="175.70"/>
<line x1="414.50" y1="142.10" x2="420.80" y2="142.10"/>
<line x1="709.00" y1="142.10" x2="702.70" y2="142.10"/>
<line x1="414.50" y1="108.50" x2="417.50" y2="108.50"/>
<line x1="709.00" y1="108.50" x2="706.00" y2="108.50"/>
<line x1="414.50" y1="74.90" x2="420.80" y2="74.90"/>
<line x1="709.00" y1="74.90" x2="702.70" y2="74.90"/>
<line x1="414.50" y1="41.30" x2="417.50" y2="41.30"/>
<line x1="709.00" y1="41.30" x2="706.00" y2="41.30"/>
<line x1="414.50" y1="7.70" x2="420.80" y2="7.70"/>
<line x1="709.00" y1="7.70" x2="702.70" y2="7.70"/>
</g>
<text class="tl" x="477.98" y="227.4" text-anchor="middle">0.5</text>
<text class="tl" x="555.50" y="227.4" text-anchor="middle">1</text>
<text class="tl" x="633.02" y="227.4" text-anchor="middle">2</text>
<text class="xl" y="252.5"><tspan x="543.60">s</tspan><tspan x="557.00">(</tspan><tspan x="562.20">R</tspan><tspan class="sub" x="570.30" dy="4">E</tspan><tspan x="577.00" dy="-4">)</tspan></text>
<rect x="709.50" y="1.20" width="20.50" height="210.20" fill="url(#cb)"/>
<g stroke="#000" stroke-width="1" fill="none" shape-rendering="crispEdges">
<rect x="709.50" y="1.20" width="20.50" height="210.20"/>
<line x1="709.50" y1="51.30" x2="714.00" y2="51.30"/>
<line x1="730.00" y1="51.30" x2="725.50" y2="51.30"/>
<line x1="709.50" y1="86.90" x2="714.00" y2="86.90"/>
<line x1="730.00" y1="86.90" x2="725.50" y2="86.90"/>
<line x1="709.50" y1="122.40" x2="714.00" y2="122.40"/>
<line x1="730.00" y1="122.40" x2="725.50" y2="122.40"/>
<line x1="709.50" y1="157.90" x2="714.00" y2="157.90"/>
<line x1="730.00" y1="157.90" x2="725.50" y2="157.90"/>
<line x1="709.50" y1="193.40" x2="714.00" y2="193.40"/>
<line x1="730.00" y1="193.40" x2="725.50" y2="193.40"/>
</g>
<text class="cbl" transform="translate(741.90,51.60) rotate(-90)" text-anchor="middle">5.2×10<tspan class="csup" dy="-3.6">4</tspan></text>
<text class="cbl" transform="translate(741.90,122.70) rotate(-90)" text-anchor="middle">5×10<tspan class="csup" dy="-3.6">4</tspan></text>
<text class="cbl" transform="translate(741.90,193.70) rotate(-90)" text-anchor="middle">4.8×10<tspan class="csup" dy="-3.6">4</tspan></text>
<text class="chi" transform="translate(751.00,14.20) rotate(-90)">χ</text>
<text class="csup" transform="translate(746.50,4.80) rotate(-90)">2</text>
<text class="tl" transform="translate(406.8,209.60) rotate(-90)" text-anchor="middle">0</text>
<text class="tl" transform="translate(406.8,142.40) rotate(-90)" text-anchor="middle">2</text>
<text class="tl" transform="translate(406.8,75.20) rotate(-90)" text-anchor="middle">4</text>
<text class="tl" transform="translate(406.8,8.00) rotate(-90)" text-anchor="middle">6</text>
<text class="th" transform="translate(387.3,106.6) rotate(-90)" text-anchor="middle">θ</text>
<circle cx="630" cy="143.3" r="5" fill="#000"/>
<rect x="36.00" y="281.40" width="295.00" height="210.70" stroke="#000" stroke-width="1" fill="none" shape-rendering="crispEdges"/>
<svg x="36" y="281.4" width="295" height="210.8" viewBox="36 281.4 295 210.8"><g shape-rendering="crispEdges"><rect x="35.80" y="281.80" width="108.30" height="5.56" fill="#000078"/>
<rect x="143.80" y="281.80" width="27.30" height="5.56" fill="#3cffc4"/>
<rect x="170.80" y="281.80" width="27.30" height="5.56" fill="#ff9600"/>
<rect x="197.80" y="281.80" width="27.30" height="5.56" fill="#ffc000"/>
<rect x="224.80" y="281.80" width="27.30" height="5.56" fill="#e8fc16"/>
<rect x="251.80" y="281.80" width="27.30" height="5.56" fill="#fcf808"/>
<rect x="278.80" y="281.80" width="27.30" height="5.56" fill="#ff9600"/>
<rect x="305.80" y="281.80" width="27.30" height="5.56" fill="#d4ff24"/>
<rect x="35.80" y="287.06" width="27.30" height="5.56" fill="#000078"/>
<rect x="62.80" y="287.06" width="27.30" height="5.56" fill="#d4ff24"/>
<rect x="89.80" y="287.06" width="27.30" height="5.56" fill="#ff9600"/>
<rect x="116.80" y="287.06" width="27.30" height="5.56" fill="#ff7f00"/>
<rect x="143.80" y="287.06" width="27.30" height="5.56" fill="#08f4fa"/>
<rect x="170.80" y="287.06" width="27.30" height="5.56" fill="#ff4000"/>
<rect x="197.80" y="287.06" width="54.30" height="5.56" fill="#ff9600"/>
<rect x="251.80" y="287.06" width="27.30" height="5.56" fill="#fcf808"/>
<rect x="278.80" y="287.06" width="54.30" height="5.56" fill="#ff0c08"/>
<rect x="35.80" y="292.32" width="27.30" height="5.56" fill="#000096"/>
<rect x="62.80" y="292.32" width="27.30" height="5.56" fill="#000078"/>
<rect x="89.80" y="292.32" width="54.30" height="5.56" fill="#0000b4"/>
<rect x="143.80" y="292.32" width="27.30" height="5.56" fill="#70ff86"/>
<rect x="170.80" y="292.32" width="27.30" height="5.56" fill="#ff4000"/>
<rect x="197.80" y="292.32" width="27.30" height="5.56" fill="#ff9600"/>
<rect x="224.80" y="292.32" width="27.30" height="5.56" fill="#ff4000"/>
<rect x="251.80" y="292.32" width="27.30" height="5.56" fill="#ff9600"/>
<rect x="278.80" y="292.32" width="27.30" height="5.56" fill="#ff0c08"/>
<rect x="305.80" y="292.32" width="27.30" height="5.56" fill="#d4ff24"/>
<rect x="35.80" y="297.58" width="27.30" height="5.56" fill="#0000b4"/>
<rect x="62.80" y="297.58" width="27.30" height="5.56" fill="#000096"/>
<rect x="89.80" y="297.58" width="27.30" height="5.56" fill="#0000b4"/>
<rect x="116.80" y="297.58" width="27.30" height="5.56" fill="#a8ff44"/>
<rect x="143.80" y="297.58" width="27.30" height="5.56" fill="#ff9600"/>
<rect x="170.80" y="297.58" width="27.30" height="5.56" fill="#ff6800"/>
<rect x="197.80" y="297.58" width="27.30" height="5.56" fill="#ff9600"/>
<rect x="224.80" y="297.58" width="27.30" height="5.56" fill="#fcf808"/>
<rect x="251.80" y="297.58" width="27.30" height="5.56" fill="#ffab00"/>
<rect x="278.80" y="297.58" width="27.30" height="5.56" fill="#ffc000"/>
<rect x="305.80" y="297.58" width="27.30" height="5.56" fill="#ff7f00"/>
<rect x="35.80" y="302.84" width="27.30" height="5.56" fill="#0000b4"/>
<rect x="62.80" y="302.84" width="27.30" height="5.56" fill="#000096"/>
<rect x="89.80" y="302.84" width="27.30" height="5.56" fill="#0000b4"/>
<rect x="116.80" y="302.84" width="27.30" height="5.56" fill="#a8ff44"/>
<rect x="143.80" y="302.84" width="27.30" height="5.56" fill="#08a0f0"/>
<rect x="170.80" y="302.84" width="27.30" height="5.56" fill="#ffab00"/>
<rect x="197.80" y="302.84" width="27.30" height="5.56" fill="#ff7f00"/>
<rect x="224.80" y="302.84" width="27.30" height="5.56" fill="#ffab00"/>
<rect x="251.80" y="302.84" width="54.30" height="5.56" fill="#ff9600"/>
<rect x="305.80" y="302.84" width="27.30" height="5.56" fill="#ffab00"/>
<rect x="35.80" y="308.10" width="27.30" height="5.56" fill="#000078"/>
<rect x="62.80" y="308.10" width="54.30" height="5.56" fill="#0881eb"/>
<rect x="116.80" y="308.10" width="27.30" height="5.56" fill="#08a0f0"/>
<rect x="143.80" y="308.10" width="27.30" height="5.56" fill="#ffdc00"/>
<rect x="170.80" y="308.10" width="27.30" height="5.56" fill="#fcf808"/>
<rect x="197.80" y="308.10" width="27.30" height="5.56" fill="#ff7f00"/>
<rect x="224.80" y="308.10" width="27.30" height="5.56" fill="#fcf808"/>
<rect x="251.80" y="308.10" width="27.30" height="5.56" fill="#ff9600"/>
<rect x="278.80" y="308.10" width="27.30" height="5.56" fill="#fcf808"/>
<rect x="305.80" y="308.10" width="27.30" height="5.56" fill="#ffdc00"/>
<rect x="35.80" y="313.36" width="27.30" height="5.56" fill="#000096"/>
<rect x="62.80" y="313.36" width="27.30" height="5.56" fill="#0881eb"/>
<rect x="89.80" y="313.36" width="81.30" height="5.56" fill="#08a0f0"/>
<rect x="170.80" y="313.36" width="27.30" height="5.56" fill="#ff9600"/>
<rect x="197.80" y="313.36" width="27.30" height="5.56" fill="#ff7f00"/>
<rect x="224.80" y="313.36" width="27.30" height="5.56" fill="#ff2604"/>
<rect x="251.80" y="313.36" width="27.30" height="5.56" fill="#ff9600"/>
<rect x="278.80" y="313.36" width="27.30" height="5.56" fill="#ff201e"/>
<rect x="305.80" y="313.36" width="27.30" height="5.56" fill="#ff0c08"/>
<rect x="35.80" y="318.62" width="27.30" height="5.56" fill="#08a0f0"/>
<rect x="62.80" y="318.62" width="27.30" height="5.56" fill="#0000b4"/>
<rect x="89.80" y="318.62" width="27.30" height="5.56" fill="#0431cd"/>
<rect x="116.80" y="318.62" width="27.30" height="5.56" fill="#08a0f0"/>
<rect x="143.80" y="318.62" width="27.30" height="5.56" fill="#ffdc00"/>
<rect x="170.80" y="318.62" width="27.30" height="5.56" fill="#08caf5"/>
<rect x="197.80" y="318.62" width="27.30" height="5.56" fill="#ff0c08"/>
<rect x="224.80" y="318.62" width="27.30" height="5.56" fill="#70ff86"/>
<rect x="251.80" y="318.62" width="27.30" height="5.56" fill="#ff3434"/>
<rect x="278.80" y="318.62" width="27.30" height="5.56" fill="#ff2604"/>
<rect x="305.80" y="318.62" width="27.30" height="5.56" fill="#ff3434"/>
<rect x="35.80" y="323.88" width="27.30" height="5.56" fill="#08a0f0"/>
<rect x="62.80" y="323.88" width="27.30" height="5.56" fill="#0862e6"/>
<rect x="89.80" y="323.88" width="54.30" height="5.56" fill="#08a0f0"/>
<rect x="143.80" y="323.88" width="54.30" height="5.56" fill="#08caf5"/>
<rect x="197.80" y="323.88" width="27.30" height="5.56" fill="#ff0c08"/>
<rect x="224.80" y="323.88" width="27.30" height="5.56" fill="#ff3434"/>
<rect x="251.80" y="323.88" width="54.30" height="5.56" fill="#ff4646"/>
<rect x="305.80" y="323.88" width="27.30" height="5.56" fill="#ff5858"/>
<rect x="35.80" y="329.14" width="54.30" height="5.56" fill="#0862e6"/>
<rect x="89.80" y="329.14" width="27.30" height="5.56" fill="#08f4fa"/>
<rect x="116.80" y="329.14" width="27.30" height="5.56" fill="#0881eb"/>
<rect x="143.80" y="329.14" width="27.30" height="5.56" fill="#d4ff24"/>
<rect x="170.80" y="329.14" width="27.30" height="5.56" fill="#0881eb"/>
<rect x="197.80" y="329.14" width="27.30" height="5.56" fill="#ff0c08"/>
<rect x="224.80" y="329.14" width="27.30" height="5.56" fill="#ff4646"/>
<rect x="251.80" y="329.14" width="81.30" height="5.56" fill="#ff5858"/>
<rect x="35.80" y="334.40" width="27.30" height="5.56" fill="#0431cd"/>
<rect x="62.80" y="334.40" width="54.30" height="5.56" fill="#08a0f0"/>
<rect x="116.80" y="334.40" width="27.30" height="5.56" fill="#0881eb"/>
<rect x="143.80" y="334.40" width="27.30" height="5.56" fill="#e8fc16"/>
<rect x="170.80" y="334.40" width="27.30" height="5.56" fill="#08caf5"/>
<rect x="197.80" y="334.40" width="27.30" height="5.56" fill="#ff0c08"/>
<rect x="224.80" y="334.40" width="27.30" height="5.56" fill="#ff4646"/>
<rect x="251.80" y="334.40" width="81.30" height="5.56" fill="#ff5858"/>
<rect x="35.80" y="339.66" width="27.30" height="5.56" fill="#000096"/>
<rect x="62.80" y="339.66" width="27.30" height="5.56" fill="#0431cd"/>
<rect x="89.80" y="339.66" width="27.30" height="5.56" fill="#08a0f0"/>
<rect x="116.80" y="339.66" width="27.30" height="5.56" fill="#ffce00"/>
<rect x="143.80" y="339.66" width="27.30" height="5.56" fill="#e8fc16"/>
<rect x="170.80" y="339.66" width="27.30" height="5.56" fill="#ff5400"/>
<rect x="197.80" y="339.66" width="27.30" height="5.56" fill="#ff0c08"/>
<rect x="224.80" y="339.66" width="27.30" height="5.56" fill="#e8fc16"/>
<rect x="251.80" y="339.66" width="27.30" height="5.56" fill="#ff4646"/>
<rect x="278.80" y="339.66" width="27.30" height="5.56" fill="#ff3434"/>
<rect x="305.80" y="339.66" width="27.30" height="5.56" fill="#ff4646"/>
<rect x="35.80" y="344.92" width="27.30" height="5.56" fill="#0000b4"/>
<rect x="62.80" y="344.92" width="27.30" height="5.56" fill="#0431cd"/>
<rect x="89.80" y="344.92" width="54.30" height="5.56" fill="#08a0f0"/>
<rect x="143.80" y="344.92" width="27.30" height="5.56" fill="#08caf5"/>
<rect x="170.80" y="344.92" width="27.30" height="5.56" fill="#fcf808"/>
<rect x="197.80" y="344.92" width="27.30" height="5.56" fill="#a8ff44"/>
<rect x="224.80" y="344.92" width="27.30" height="5.56" fill="#ff6800"/>
<rect x="251.80" y="344.92" width="27.30" height="5.56" fill="#ff9600"/>
<rect x="278.80" y="344.92" width="27.30" height="5.56" fill="#ffab00"/>
<rect x="305.80" y="344.92" width="27.30" height="5.56" fill="#ff201e"/>
<rect x="35.80" y="350.18" width="54.30" height="5.56" fill="#000078"/>
<rect x="89.80" y="350.18" width="27.30" height="5.56" fill="#0881eb"/>
<rect x="116.80" y="350.18" width="27.30" height="5.56" fill="#08caf5"/>
<rect x="143.80" y="350.18" width="27.30" height="5.56" fill="#08a0f0"/>
<rect x="170.80" y="350.18" width="27.30" height="5.56" fill="#8cff65"/>
<rect x="197.80" y="350.18" width="27.30" height="5.56" fill="#a8ff44"/>
<rect x="224.80" y="350.18" width="27.30" height="5.56" fill="#ffc000"/>
<rect x="251.80" y="350.18" width="27.30" height="5.56" fill="#ff7f00"/>
<rect x="278.80" y="350.18" width="27.30" height="5.56" fill="#ff9600"/>
<rect x="305.80" y="350.18" width="27.30" height="5.56" fill="#ffc000"/>
<rect x="35.80" y="355.44" width="27.30" height="5.56" fill="#000078"/>
<rect x="62.80" y="355.44" width="27.30" height="5.56" fill="#0000b4"/>
<rect x="89.80" y="355.44" width="27.30" height="5.56" fill="#0431cd"/>
<rect x="116.80" y="355.44" width="27.30" height="5.56" fill="#8cff65"/>
<rect x="143.80" y="355.44" width="27.30" height="5.56" fill="#0862e6"/>
<rect x="170.80" y="355.44" width="27.30" height="5.56" fill="#a8ff44"/>
<rect x="197.80" y="355.44" width="27.30" height="5.56" fill="#08a0f0"/>
<rect x="224.80" y="355.44" width="27.30" height="5.56" fill="#ff9600"/>
<rect x="251.80" y="355.44" width="27.30" height="5.56" fill="#ff6800"/>
<rect x="278.80" y="355.44" width="27.30" height="5.56" fill="#ff9600"/>
<rect x="305.80" y="355.44" width="27.30" height="5.56" fill="#fcf808"/>
<rect x="35.80" y="360.70" width="81.30" height="5.56" fill="#0000b4"/>
<rect x="116.80" y="360.70" width="27.30" height="5.56" fill="#08f4fa"/>
<rect x="143.80" y="360.70" width="27.30" height="5.56" fill="#0000b4"/>
<rect x="170.80" y="360.70" width="27.30" height="5.56" fill="#ffdc00"/>
<rect x="197.80" y="360.70" width="27.30" height="5.56" fill="#ff9600"/>
<rect x="224.80" y="360.70" width="27.30" height="5.56" fill="#ffab00"/>
<rect x="251.80" y="360.70" width="27.30" height="5.56" fill="#ff9600"/>
<rect x="278.80" y="360.70" width="27.30" height="5.56" fill="#ffc000"/>
<rect x="305.80" y="360.70" width="27.30" height="5.56" fill="#ffdc00"/>
<rect x="35.80" y="365.96" width="27.30" height="5.56" fill="#000096"/>
<rect x="62.80" y="365.96" width="27.30" height="5.56" fill="#0000b4"/>
<rect x="89.80" y="365.96" width="27.30" height="5.56" fill="#000096"/>
<rect x="116.80" y="365.96" width="27.30" height="5.56" fill="#0000b4"/>
<rect x="143.80" y="365.96" width="27.30" height="5.56" fill="#08f4fa"/>
<rect x="170.80" y="365.96" width="27.30" height="5.56" fill="#ff7f00"/>
<rect x="197.80" y="365.96" width="27.30" height="5.56" fill="#ff6800"/>
<rect x="224.80" y="365.96" width="27.30" height="5.56" fill="#ff5400"/>
<rect x="251.80" y="365.96" width="27.30" height="5.56" fill="#ffdc00"/>
<rect x="278.80" y="365.96" width="27.30" height="5.56" fill="#beff34"/>
<rect x="305.80" y="365.96" width="27.30" height="5.56" fill="#e8fc16"/>
<rect x="35.80" y="371.22" width="27.30" height="5.56" fill="#000078"/>
<rect x="62.80" y="371.22" width="27.30" height="5.56" fill="#0000b4"/>
<rect x="89.80" y="371.22" width="27.30" height="5.56" fill="#08caf5"/>
<rect x="116.80" y="371.22" width="27.30" height="5.56" fill="#fcf808"/>
<rect x="143.80" y="371.22" width="27.30" height="5.56" fill="#08f4fa"/>
<rect x="170.80" y="371.22" width="27.30" height="5.56" fill="#ffdc00"/>
<rect x="197.80" y="371.22" width="27.30" height="5.56" fill="#a8ff44"/>
<rect x="224.80" y="371.22" width="27.30" height="5.56" fill="#e8fc16"/>
<rect x="251.80" y="371.22" width="27.30" height="5.56" fill="#fcf808"/>
<rect x="278.80" y="371.22" width="27.30" height="5.56" fill="#70ff86"/>
<rect x="305.80" y="371.22" width="27.30" height="5.56" fill="#d4ff24"/>
<rect x="35.80" y="376.48" width="27.30" height="5.56" fill="#000078"/>
<rect x="62.80" y="376.48" width="27.30" height="5.56" fill="#08a0f0"/>
<rect x="89.80" y="376.48" width="27.30" height="5.56" fill="#ff5400"/>
<rect x="116.80" y="376.48" width="27.30" height="5.56" fill="#000078"/>
<rect x="143.80" y="376.48" width="27.30" height="5.56" fill="#ff6800"/>
<rect x="170.80" y="376.48" width="27.30" height="5.56" fill="#ffc000"/>
<rect x="197.80" y="376.48" width="27.30" height="5.56" fill="#ffab00"/>
<rect x="224.80" y="376.48" width="27.30" height="5.56" fill="#feea04"/>
<rect x="251.80" y="376.48" width="27.30" height="5.56" fill="#d4ff24"/>
<rect x="278.80" y="376.48" width="27.30" height="5.56" fill="#beff34"/>
<rect x="305.80" y="376.48" width="27.30" height="5.56" fill="#d4ff24"/>
<rect x="35.80" y="381.74" width="54.30" height="5.56" fill="#000078"/>
<rect x="89.80" y="381.74" width="27.30" height="5.56" fill="#000096"/>
<rect x="116.80" y="381.74" width="27.30" height="5.56" fill="#a8ff44"/>
<rect x="143.80" y="381.74" width="27.30" height="5.56" fill="#feea04"/>
<rect x="170.80" y="381.74" width="27.30" height="5.56" fill="#e8fc16"/>
<rect x="197.80" y="381.74" width="27.30" height="5.56" fill="#beff34"/>
<rect x="224.80" y="381.74" width="27.30" height="5.56" fill="#a8ff44"/>
<rect x="251.80" y="381.74" width="27.30" height="5.56" fill="#d4ff24"/>
<rect x="278.80" y="381.74" width="27.30" height="5.56" fill="#a8ff44"/>
<rect x="305.80" y="381.74" width="27.30" height="5.56" fill="#ff9600"/>
<rect x="35.80" y="387.00" width="81.30" height="5.56" fill="#000078"/>
<rect x="116.80" y="387.00" width="27.30" height="5.56" fill="#0431cd"/>
<rect x="143.80" y="387.00" width="27.30" height="5.56" fill="#ff7f00"/>
<rect x="170.80" y="387.00" width="54.30" height="5.56" fill="#ffc000"/>
<rect x="224.80" y="387.00" width="27.30" height="5.56" fill="#ff9600"/>
<rect x="251.80" y="387.00" width="27.30" height="5.56" fill="#d4ff24"/>
<rect x="278.80" y="387.00" width="27.30" height="5.56" fill="#a8ff44"/>
<rect x="305.80" y="387.00" width="27.30" height="5.56" fill="#fcf808"/>
<rect x="35.80" y="392.26" width="54.30" height="5.56" fill="#000078"/>
<rect x="89.80" y="392.26" width="27.30" height="5.56" fill="#0000b4"/>
<rect x="116.80" y="392.26" width="27.30" height="5.56" fill="#0881eb"/>
<rect x="143.80" y="392.26" width="27.30" height="5.56" fill="#000078"/>
<rect x="170.80" y="392.26" width="27.30" height="5.56" fill="#beff34"/>
<rect x="197.80" y="392.26" width="27.30" height="5.56" fill="#ff6800"/>
<rect x="224.80" y="392.26" width="27.30" height="5.56" fill="#ff9600"/>
<rect x="251.80" y="392.26" width="27.30" height="5.56" fill="#3cffc4"/>
<rect x="278.80" y="392.26" width="27.30" height="5.56" fill="#beff34"/>
<rect x="305.80" y="392.26" width="27.30" height="5.56" fill="#fcf808"/>
<rect x="35.80" y="397.52" width="27.30" height="5.56" fill="#000096"/>
<rect x="62.80" y="397.52" width="27.30" height="5.56" fill="#0000b4"/>
<rect x="89.80" y="397.52" width="27.30" height="5.56" fill="#a8ff44"/>
<rect x="116.80" y="397.52" width="27.30" height="5.56" fill="#0000b4"/>
<rect x="143.80" y="397.52" width="27.30" height="5.56" fill="#ff9600"/>
<rect x="170.80" y="397.52" width="27.30" height="5.56" fill="#08a0f0"/>
<rect x="197.80" y="397.52" width="27.30" height="5.56" fill="#fcf808"/>
<rect x="224.80" y="397.52" width="27.30" height="5.56" fill="#d4ff24"/>
<rect x="251.80" y="397.52" width="27.30" height="5.56" fill="#56ffa5"/>
<rect x="278.80" y="397.52" width="54.30" height="5.56" fill="#d4ff24"/>
<rect x="35.80" y="402.78" width="27.30" height="5.56" fill="#000096"/>
<rect x="62.80" y="402.78" width="81.30" height="5.56" fill="#0000b4"/>
<rect x="143.80" y="402.78" width="27.30" height="5.56" fill="#0881eb"/>
<rect x="170.80" y="402.78" width="27.30" height="5.56" fill="#e8fc16"/>
<rect x="197.80" y="402.78" width="27.30" height="5.56" fill="#ff7f00"/>
<rect x="224.80" y="402.78" width="27.30" height="5.56" fill="#d4ff24"/>
<rect x="251.80" y="402.78" width="27.30" height="5.56" fill="#ffab00"/>
<rect x="278.80" y="402.78" width="54.30" height="5.56" fill="#d4ff24"/>
<rect x="35.80" y="408.04" width="108.30" height="5.56" fill="#0000b4"/>
<rect x="143.80" y="408.04" width="27.30" height="5.56" fill="#d4ff24"/>
<rect x="170.80" y="408.04" width="27.30" height="5.56" fill="#feea04"/>
<rect x="197.80" y="408.04" width="27.30" height="5.56" fill="#3cffc4"/>
<rect x="224.80" y="408.04" width="27.30" height="5.56" fill="#ffc000"/>
<rect x="251.80" y="408.04" width="54.30" height="5.56" fill="#fcf808"/>
<rect x="305.80" y="408.04" width="27.30" height="5.56" fill="#ffdc00"/>
<rect x="35.80" y="413.30" width="27.30" height="5.56" fill="#0881eb"/>
<rect x="62.80" y="413.30" width="27.30" height="5.56" fill="#000078"/>
<rect x="89.80" y="413.30" width="54.30" height="5.56" fill="#000096"/>
<rect x="143.80" y="413.30" width="27.30" height="5.56" fill="#0881eb"/>
<rect x="170.80" y="413.30" width="27.30" height="5.56" fill="#3cffc4"/>
<rect x="197.80" y="413.30" width="27.30" height="5.56" fill="#ffc000"/>
<rect x="224.80" y="413.30" width="27.30" height="5.56" fill="#70ff86"/>
<rect x="251.80" y="413.30" width="27.30" height="5.56" fill="#ff0c08"/>
<rect x="278.80" y="413.30" width="54.30" height="5.56" fill="#ff201e"/>
<rect x="35.80" y="418.56" width="27.30" height="5.56" fill="#0000b4"/>
<rect x="62.80" y="418.56" width="27.30" height="5.56" fill="#0431cd"/>
<rect x="89.80" y="418.56" width="27.30" height="5.56" fill="#08a0f0"/>
<rect x="116.80" y="418.56" width="27.30" height="5.56" fill="#08f4fa"/>
<rect x="143.80" y="418.56" width="27.30" height="5.56" fill="#08a0f0"/>
<rect x="170.80" y="418.56" width="27.30" height="5.56" fill="#3cffc4"/>
<rect x="197.80" y="418.56" width="27.30" height="5.56" fill="#ff0c08"/>
<rect x="224.80" y="418.56" width="27.30" height="5.56" fill="#ff9600"/>
<rect x="251.80" y="418.56" width="27.30" height="5.56" fill="#ff0c08"/>
<rect x="278.80" y="418.56" width="27.30" height="5.56" fill="#ff201e"/>
<rect x="305.80" y="418.56" width="27.30" height="5.56" fill="#ff3434"/>
<rect x="35.80" y="423.82" width="27.30" height="5.56" fill="#0000b4"/>
<rect x="62.80" y="423.82" width="27.30" height="5.56" fill="#0431cd"/>
<rect x="89.80" y="423.82" width="27.30" height="5.56" fill="#08a0f0"/>
<rect x="116.80" y="423.82" width="27.30" height="5.56" fill="#56ffa5"/>
<rect x="143.80" y="423.82" width="27.30" height="5.56" fill="#08a0f0"/>
<rect x="170.80" y="423.82" width="27.30" height="5.56" fill="#08caf5"/>
<rect x="197.80" y="423.82" width="27.30" height="5.56" fill="#ff0c08"/>
<rect x="224.80" y="423.82" width="27.30" height="5.56" fill="#ff3434"/>
<rect x="251.80" y="423.82" width="27.30" height="5.56" fill="#d4ff24"/>
<rect x="278.80" y="423.82" width="27.30" height="5.56" fill="#ff201e"/>
<rect x="305.80" y="423.82" width="27.30" height="5.56" fill="#ff3434"/>
<rect x="35.80" y="429.08" width="27.30" height="5.56" fill="#0431cd"/>
<rect x="62.80" y="429.08" width="54.30" height="5.56" fill="#0881eb"/>
<rect x="116.80" y="429.08" width="27.30" height="5.56" fill="#08a0f0"/>
<rect x="143.80" y="429.08" width="27.30" height="5.56" fill="#ff3434"/>
<rect x="170.80" y="429.08" width="27.30" height="5.56" fill="#ff5400"/>
<rect x="197.80" y="429.08" width="27.30" height="5.56" fill="#ff0c08"/>
<rect x="224.80" y="429.08" width="81.30" height="5.56" fill="#ff3434"/>
<rect x="305.80" y="429.08" width="27.30" height="5.56" fill="#ff4646"/>
<rect x="35.80" y="434.34" width="135.30" height="5.56" fill="#0881eb"/>
<rect x="170.80" y="434.34" width="27.30" height="5.56" fill="#ffc000"/>
<rect x="197.80" y="434.34" width="27.30" height="5.56" fill="#ff0c08"/>
<rect x="224.80" y="434.34" width="27.30" height="5.56" fill="#ff3434"/>
<rect x="251.80" y="434.34" width="81.30" height="5.56" fill="#ff5858"/>
<rect x="35.80" y="439.60" width="27.30" height="5.56" fill="#08a0f0"/>
<rect x="62.80" y="439.60" width="27.30" height="5.56" fill="#0881eb"/>
<rect x="89.80" y="439.60" width="27.30" height="5.56" fill="#08a0f0"/>
<rect x="116.80" y="439.60" width="27.30" height="5.56" fill="#ffdc00"/>
<rect x="143.80" y="439.60" width="27.30" height="5.56" fill="#e8fc16"/>
<rect x="170.80" y="439.60" width="27.30" height="5.56" fill="#ff6800"/>
<rect x="197.80" y="439.60" width="54.30" height="5.56" fill="#ff3434"/>
<rect x="251.80" y="439.60" width="81.30" height="5.56" fill="#ff5858"/>
<rect x="35.80" y="444.86" width="27.30" height="5.56" fill="#0000b4"/>
<rect x="62.80" y="444.86" width="27.30" height="5.56" fill="#0862e6"/>
<rect x="89.80" y="444.86" width="27.30" height="5.56" fill="#08a0f0"/>
<rect x="116.80" y="444.86" width="27.30" height="5.56" fill="#fcf808"/>
<rect x="143.80" y="444.86" width="27.30" height="5.56" fill="#a8ff44"/>
<rect x="170.80" y="444.86" width="27.30" height="5.56" fill="#ffc000"/>
<rect x="197.80" y="444.86" width="27.30" height="5.56" fill="#ff0c08"/>
<rect x="224.80" y="444.86" width="27.30" height="5.56" fill="#ff3434"/>
<rect x="251.80" y="444.86" width="27.30" height="5.56" fill="#ff4646"/>
<rect x="278.80" y="444.86" width="27.30" height="5.56" fill="#ff3434"/>
<rect x="305.80" y="444.86" width="27.30" height="5.56" fill="#ff5858"/>
<rect x="35.80" y="450.12" width="81.30" height="5.56" fill="#0000b4"/>
<rect x="116.80" y="450.12" width="27.30" height="5.56" fill="#8cff65"/>
<rect x="143.80" y="450.12" width="54.30" height="5.56" fill="#70ff86"/>
<rect x="197.80" y="450.12" width="27.30" height="5.56" fill="#ff4000"/>
<rect x="224.80" y="450.12" width="81.30" height="5.56" fill="#ff3434"/>
<rect x="305.80" y="450.12" width="27.30" height="5.56" fill="#ff4646"/>
<rect x="35.80" y="455.38" width="81.30" height="5.56" fill="#000078"/>
<rect x="116.80" y="455.38" width="27.30" height="5.56" fill="#0862e6"/>
<rect x="143.80" y="455.38" width="27.30" height="5.56" fill="#70ff86"/>
<rect x="170.80" y="455.38" width="27.30" height="5.56" fill="#a8ff44"/>
<rect x="197.80" y="455.38" width="27.30" height="5.56" fill="#ffab00"/>
<rect x="224.80" y="455.38" width="27.30" height="5.56" fill="#ffc000"/>
<rect x="251.80" y="455.38" width="54.30" height="5.56" fill="#ff201e"/>
<rect x="305.80" y="455.38" width="27.30" height="5.56" fill="#ff3434"/>
<rect x="35.80" y="460.64" width="81.30" height="5.56" fill="#0000b4"/>
<rect x="116.80" y="460.64" width="27.30" height="5.56" fill="#70ff86"/>
<rect x="143.80" y="460.64" width="27.30" height="5.56" fill="#3cffc4"/>
<rect x="170.80" y="460.64" width="27.30" height="5.56" fill="#08a0f0"/>
<rect x="197.80" y="460.64" width="27.30" height="5.56" fill="#ffdc00"/>
<rect x="224.80" y="460.64" width="54.30" height="5.56" fill="#ff6800"/>
<rect x="278.80" y="460.64" width="54.30" height="5.56" fill="#ff0c08"/>
<rect x="35.80" y="465.90" width="81.30" height="5.56" fill="#0000b4"/>
<rect x="116.80" y="465.90" width="27.30" height="5.56" fill="#d4ff24"/>
<rect x="143.80" y="465.90" width="27.30" height="5.56" fill="#ff9600"/>
<rect x="170.80" y="465.90" width="27.30" height="5.56" fill="#ff7f00"/>
<rect x="197.80" y="465.90" width="27.30" height="5.56" fill="#ffab00"/>
<rect x="224.80" y="465.90" width="27.30" height="5.56" fill="#ffdc00"/>
<rect x="251.80" y="465.90" width="27.30" height="5.56" fill="#e8fc16"/>
<rect x="278.80" y="465.90" width="27.30" height="5.56" fill="#fcf808"/>
<rect x="305.80" y="465.90" width="27.30" height="5.56" fill="#ffc000"/>
<rect x="35.80" y="471.16" width="54.30" height="5.56" fill="#0000b4"/>
<rect x="89.80" y="471.16" width="27.30" height="5.56" fill="#22fadf"/>
<rect x="116.80" y="471.16" width="27.30" height="5.56" fill="#ffab00"/>
<rect x="143.80" y="471.16" width="27.30" height="5.56" fill="#ff6800"/>
<rect x="170.80" y="471.16" width="27.30" height="5.56" fill="#3cffc4"/>
<rect x="197.80" y="471.16" width="54.30" height="5.56" fill="#ffdc00"/>
<rect x="251.80" y="471.16" width="54.30" height="5.56" fill="#ffce00"/>
<rect x="305.80" y="471.16" width="27.30" height="5.56" fill="#d4ff24"/>
<rect x="35.80" y="476.42" width="27.30" height="5.56" fill="#beff34"/>
<rect x="62.80" y="476.42" width="54.30" height="5.56" fill="#000078"/>
<rect x="116.80" y="476.42" width="54.30" height="5.56" fill="#70ff86"/>
<rect x="170.80" y="476.42" width="27.30" height="5.56" fill="#ffab00"/>
<rect x="197.80" y="476.42" width="27.30" height="5.56" fill="#ff9600"/>
<rect x="224.80" y="476.42" width="27.30" height="5.56" fill="#d4ff24"/>
<rect x="251.80" y="476.42" width="27.30" height="5.56" fill="#e8fc16"/>
<rect x="278.80" y="476.42" width="27.30" height="5.56" fill="#fcf808"/>
<rect x="305.80" y="476.42" width="27.30" height="5.56" fill="#beff34"/>
<rect x="35.80" y="481.68" width="27.30" height="5.56" fill="#0431cd"/>
<rect x="62.80" y="481.68" width="27.30" height="5.56" fill="#000078"/>
<rect x="89.80" y="481.68" width="27.30" height="5.56" fill="#0000b4"/>
<rect x="116.80" y="481.68" width="27.30" height="5.56" fill="#0431cd"/>
<rect x="143.80" y="481.68" width="27.30" height="5.56" fill="#ff9600"/>
<rect x="170.80" y="481.68" width="27.30" height="5.56" fill="#ff7f00"/>
<rect x="197.80" y="481.68" width="27.30" height="5.56" fill="#ff9600"/>
<rect x="224.80" y="481.68" width="54.30" height="5.56" fill="#d4ff24"/>
<rect x="278.80" y="481.68" width="27.30" height="5.56" fill="#beff34"/>
<rect x="305.80" y="481.68" width="27.30" height="5.56" fill="#ff5400"/>
<rect x="35.80" y="486.94" width="54.30" height="5.56" fill="#000078"/>
<rect x="89.80" y="486.94" width="27.30" height="5.56" fill="#22fadf"/>
<rect x="116.80" y="486.94" width="27.30" height="5.56" fill="#08caf5"/>
<rect x="143.80" y="486.94" width="27.30" height="5.56" fill="#ff9600"/>
<rect x="170.80" y="486.94" width="27.30" height="5.56" fill="#fcf808"/>
<rect x="197.80" y="486.94" width="27.30" height="5.56" fill="#ffab00"/>
<rect x="224.80" y="486.94" width="27.30" height="5.56" fill="#d4ff24"/>
<rect x="251.80" y="486.94" width="27.30" height="5.56" fill="#a8ff44"/>
<rect x="278.80" y="486.94" width="27.30" height="5.56" fill="#beff34"/>
<rect x="305.80" y="486.94" width="27.30" height="5.56" fill="#ff0c08"/></g></svg>
<g stroke="#000" stroke-width="1" fill="none" shape-rendering="crispEdges">
<line x1="40.22" y1="492.10" x2="40.22" y2="489.10"/>
<line x1="40.22" y1="281.70" x2="40.22" y2="284.70"/>
<line x1="44.11" y1="492.10" x2="44.11" y2="489.10"/>
<line x1="44.11" y1="281.70" x2="44.11" y2="284.70"/>
<line x1="47.53" y1="492.10" x2="47.53" y2="489.10"/>
<line x1="47.53" y1="281.70" x2="47.53" y2="284.70"/>
<line x1="50.60" y1="492.10" x2="50.60" y2="486.10"/>
<line x1="50.60" y1="281.70" x2="50.60" y2="287.70"/>
<line x1="70.77" y1="492.10" x2="70.77" y2="489.10"/>
<line x1="70.77" y1="281.70" x2="70.77" y2="284.70"/>
<line x1="82.57" y1="492.10" x2="82.57" y2="489.10"/>
<line x1="82.57" y1="281.70" x2="82.57" y2="284.70"/>
<line x1="90.94" y1="492.10" x2="90.94" y2="489.10"/>
<line x1="90.94" y1="281.70" x2="90.94" y2="284.70"/>
<line x1="97.43" y1="492.10" x2="97.43" y2="489.10"/>
<line x1="97.43" y1="281.70" x2="97.43" y2="284.70"/>
<line x1="102.74" y1="492.10" x2="102.74" y2="489.10"/>
<line x1="102.74" y1="281.70" x2="102.74" y2="284.70"/>
<line x1="107.22" y1="492.10" x2="107.22" y2="489.10"/>
<line x1="107.22" y1="281.70" x2="107.22" y2="284.70"/>
<line x1="111.11" y1="492.10" x2="111.11" y2="489.10"/>
<line x1="111.11" y1="281.70" x2="111.11" y2="284.70"/>
<line x1="114.53" y1="492.10" x2="114.53" y2="489.10"/>
<line x1="114.53" y1="281.70" x2="114.53" y2="284.70"/>
<line x1="117.60" y1="492.10" x2="117.60" y2="486.10"/>
<line x1="117.60" y1="281.70" x2="117.60" y2="287.70"/>
<line x1="137.77" y1="492.10" x2="137.77" y2="489.10"/>
<line x1="137.77" y1="281.70" x2="137.77" y2="284.70"/>
<line x1="149.57" y1="492.10" x2="149.57" y2="489.10"/>
<line x1="149.57" y1="281.70" x2="149.57" y2="284.70"/>
<line x1="157.94" y1="492.10" x2="157.94" y2="489.10"/>
<line x1="157.94" y1="281.70" x2="157.94" y2="284.70"/>
<line x1="164.43" y1="492.10" x2="164.43" y2="489.10"/>
<line x1="164.43" y1="281.70" x2="164.43" y2="284.70"/>
<line x1="169.74" y1="492.10" x2="169.74" y2="489.10"/>
<line x1="169.74" y1="281.70" x2="169.74" y2="284.70"/>
<line x1="174.22" y1="492.10" x2="174.22" y2="489.10"/>
<line x1="174.22" y1="281.70" x2="174.22" y2="284.70"/>
<line x1="178.11" y1="492.10" x2="178.11" y2="489.10"/>
<line x1="178.11" y1="281.70" x2="178.11" y2="284.70"/>
<line x1="181.53" y1="492.10" x2="181.53" y2="489.10"/>
<line x1="181.53" y1="281.70" x2="181.53" y2="284.70"/>
<line x1="184.60" y1="492.10" x2="184.60" y2="486.10"/>
<line x1="184.60" y1="281.70" x2="184.60" y2="287.70"/>
<line x1="204.77" y1="492.10" x2="204.77" y2="489.10"/>
<line x1="204.77" y1="281.70" x2="204.77" y2="284.70"/>
<line x1="216.57" y1="492.10" x2="216.57" y2="489.10"/>
<line x1="216.57" y1="281.70" x2="216.57" y2="284.70"/>
<line x1="224.94" y1="492.10" x2="224.94" y2="489.10"/>
<line x1="224.94" y1="281.70" x2="224.94" y2="284.70"/>
<line x1="231.43" y1="492.10" x2="231.43" y2="489.10"/>
<line x1="231.43" y1="281.70" x2="231.43" y2="284.70"/>
<line x1="236.74" y1="492.10" x2="236.74" y2="489.10"/>
<line x1="236.74" y1="281.70" x2="236.74" y2="284.70"/>
<line x1="241.22" y1="492.10" x2="241.22" y2="489.10"/>
<line x1="241.22" y1="281.70" x2="241.22" y2="284.70"/>
<line x1="245.11" y1="492.10" x2="245.11" y2="489.10"/>
<line x1="245.11" y1="281.70" x2="245.11" y2="284.70"/>
<line x1="248.53" y1="492.10" x2="248.53" y2="489.10"/>
<line x1="248.53" y1="281.70" x2="248.53" y2="284.70"/>
<line x1="251.60" y1="492.10" x2="251.60" y2="486.10"/>
<line x1="251.60" y1="281.70" x2="251.60" y2="287.70"/>
<line x1="271.77" y1="492.10" x2="271.77" y2="489.10"/>
<line x1="271.77" y1="281.70" x2="271.77" y2="284.70"/>
<line x1="283.57" y1="492.10" x2="283.57" y2="489.10"/>
<line x1="283.57" y1="281.70" x2="283.57" y2="284.70"/>
<line x1="291.94" y1="492.10" x2="291.94" y2="489.10"/>
<line x1="291.94" y1="281.70" x2="291.94" y2="284.70"/>
<line x1="298.43" y1="492.10" x2="298.43" y2="489.10"/>
<line x1="298.43" y1="281.70" x2="298.43" y2="284.70"/>
<line x1="303.74" y1="492.10" x2="303.74" y2="489.10"/>
<line x1="303.74" y1="281.70" x2="303.74" y2="284.70"/>
<line x1="308.22" y1="492.10" x2="308.22" y2="489.10"/>
<line x1="308.22" y1="281.70" x2="308.22" y2="284.70"/>
<line x1="312.11" y1="492.10" x2="312.11" y2="489.10"/>
<line x1="312.11" y1="281.70" x2="312.11" y2="284.70"/>
<line x1="315.53" y1="492.10" x2="315.53" y2="489.10"/>
<line x1="315.53" y1="281.70" x2="315.53" y2="284.70"/>
<line x1="318.60" y1="492.10" x2="318.60" y2="486.10"/>
<line x1="318.60" y1="281.70" x2="318.60" y2="287.70"/>
<line x1="36.00" y1="490.00" x2="42.30" y2="490.00"/>
<line x1="331.00" y1="490.00" x2="324.70" y2="490.00"/>
<line x1="36.00" y1="456.40" x2="39.00" y2="456.40"/>
<line x1="331.00" y1="456.40" x2="328.00" y2="456.40"/>
<line x1="36.00" y1="422.80" x2="42.30" y2="422.80"/>
<line x1="331.00" y1="422.80" x2="324.70" y2="422.80"/>
<line x1="36.00" y1="389.20" x2="39.00" y2="389.20"/>
<line x1="331.00" y1="389.20" x2="328.00" y2="389.20"/>
<line x1="36.00" y1="355.60" x2="42.30" y2="355.60"/>
<line x1="331.00" y1="355.60" x2="324.70" y2="355.60"/>
<line x1="36.00" y1="322.00" x2="39.00" y2="322.00"/>
<line x1="331.00" y1="322.00" x2="328.00" y2="322.00"/>
<line x1="36.00" y1="288.40" x2="42.30" y2="288.40"/>
<line x1="331.00" y1="288.40" x2="324.70" y2="288.40"/>
</g>
<text class="tl" transform="translate(28.8,490.30) rotate(-90)" text-anchor="middle">0</text>
<text class="tl" transform="translate(28.8,423.10) rotate(-90)" text-anchor="middle">2</text>
<text class="tl" transform="translate(28.8,355.90) rotate(-90)" text-anchor="middle">4</text>
<text class="tl" transform="translate(28.8,288.70) rotate(-90)" text-anchor="middle">6</text>
<text class="th" transform="translate(9.3,387.30) rotate(-90)" text-anchor="middle">θ</text>
<text class="sl" x="318.60" y="508.5" text-anchor="middle">1</text>
<text class="sl" x="251.60" y="508.5" text-anchor="middle">0.1</text>
<text class="sl" x="184.60" y="508.5" text-anchor="middle">0.01</text>
<text class="sl" x="117.90" y="508.5" text-anchor="middle">10<tspan class="ssup" dy="-5.5">−3</tspan></text>
<text class="sl" x="50.90" y="508.5" text-anchor="middle">10<tspan class="ssup" dy="-5.5">−4</tspan></text>
<text class="ql" x="184" y="532.5" text-anchor="middle">q</text>
<rect x="332.00" y="281.90" width="20.00" height="210.20" fill="url(#cb)"/>
<g stroke="#000" stroke-width="1" fill="none" shape-rendering="crispEdges">
<rect x="332.00" y="281.90" width="20.00" height="210.20"/>
<line x1="332.00" y1="332.00" x2="336.50" y2="332.00"/>
<line x1="352.00" y1="332.00" x2="347.50" y2="332.00"/>
<line x1="332.00" y1="367.60" x2="336.50" y2="367.60"/>
<line x1="352.00" y1="367.60" x2="347.50" y2="367.60"/>
<line x1="332.00" y1="403.10" x2="336.50" y2="403.10"/>
<line x1="352.00" y1="403.10" x2="347.50" y2="403.10"/>
<line x1="332.00" y1="438.60" x2="336.50" y2="438.60"/>
<line x1="352.00" y1="438.60" x2="347.50" y2="438.60"/>
<line x1="332.00" y1="474.10" x2="336.50" y2="474.10"/>
<line x1="352.00" y1="474.10" x2="347.50" y2="474.10"/>
</g>
<text class="cbl" transform="translate(363.90,332.30) rotate(-90)" text-anchor="middle">5.2×10<tspan class="csup" dy="-3.6">4</tspan></text>
<text class="cbl" transform="translate(363.90,403.40) rotate(-90)" text-anchor="middle">5×10<tspan class="csup" dy="-3.6">4</tspan></text>
<text class="cbl" transform="translate(363.90,474.40) rotate(-90)" text-anchor="middle">4.8×10<tspan class="csup" dy="-3.6">4</tspan></text>
<text class="chi" transform="translate(373.00,294.90) rotate(-90)">χ</text>
<text class="csup" transform="translate(368.50,285.50) rotate(-90)">2</text>
<circle cx="309.9" cy="423.9" r="5" fill="#000"/>
</svg>
</body></html>
